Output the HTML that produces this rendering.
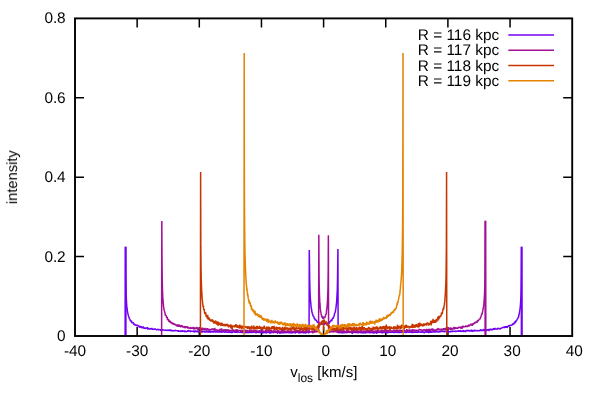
<!DOCTYPE html>
<html><head><meta charset="utf-8"><title>plot</title>
<style>html,body{margin:0;padding:0;background:#fff;width:600px;height:400px;overflow:hidden;font-family:"Liberation Sans",sans-serif}</style>
</head><body>
<svg width="600" height="400" viewBox="0 0 600 400" style="position:absolute;left:0;top:0">
<rect width="600" height="400" fill="#fff"/>
<path d="M137.15 336.00 v-9 M137.15 18.40 v9 M199.30 336.00 v-9 M199.30 18.40 v9 M261.45 336.00 v-9 M261.45 18.40 v9 M323.60 336.00 v-9 M323.60 18.40 v9 M385.75 336.00 v-9 M385.75 18.40 v9 M447.90 336.00 v-9 M447.90 18.40 v9 M510.05 336.00 v-9 M510.05 18.40 v9 M75.00 256.60 h9 M572.20 256.60 h-9 M75.00 177.20 h9 M572.20 177.20 h-9 M75.00 97.80 h9 M572.20 97.80 h-9" stroke="#000" stroke-width="1.5" fill="none"/>
<path d="M125.40 336.00 L125.59 246.90 L125.79 272.94 L125.99 286.63 L126.19 294.50 L126.39 299.53 L126.59 303.62 L126.79 306.32 L126.99 307.98 L127.19 308.62 L127.39 311.40 L127.59 311.78 L127.78 312.92 L127.98 313.78 L128.18 315.00 L128.38 315.39 L128.58 316.36 L128.78 316.39 L128.98 316.92 L129.18 318.43 L129.38 318.40 L129.58 319.00 L129.77 319.24 L129.97 319.15 L130.17 320.13 L130.37 321.06 L130.57 320.67 L130.77 320.00 L130.97 321.53 L131.17 321.79 L131.37 321.10 L131.57 321.39 L131.76 321.59 L131.96 322.87 L132.16 323.32 L132.36 322.71 L132.56 322.84 L132.76 322.85 L132.96 322.53 L133.16 322.69 L133.36 323.06 L133.56 323.29 L133.75 324.26 L133.95 324.51 L134.15 324.61 L134.35 324.25 L134.55 324.28 L134.75 324.32 L134.95 325.06 L135.15 325.20 L135.35 324.94 L135.55 325.40 L135.74 324.87 L135.94 324.92 L136.14 325.43 L136.34 325.61 L136.54 325.16 L136.74 325.02 L136.94 325.46 L137.14 324.84 L137.34 325.44 L137.54 325.76 L137.73 325.92 L137.93 324.81 L138.13 326.44 L138.33 326.01 L138.53 325.95 L138.73 325.65 L138.93 326.77 L139.13 326.95 L139.33 325.55 L139.53 327.24 L139.72 327.34 L139.92 326.36 L140.12 326.59 L140.32 326.19 L140.52 327.58 L140.72 326.13 L140.92 327.15 L141.12 326.17 L141.32 327.99 L141.52 327.12 L141.71 327.82 L141.91 327.99 L142.11 327.75 L142.31 326.75 L142.51 327.61 L142.71 328.18 L142.91 326.67 L143.11 326.80 L143.31 326.81 L143.51 328.18 L143.70 327.82 L143.90 327.69 L144.10 328.40 L144.30 328.57 L144.50 327.57 L144.70 327.79 L144.90 328.67 L145.10 328.43 L145.30 328.50 L145.50 328.73 L145.69 327.94 L145.89 328.17 L146.09 328.17 L146.29 328.66 L146.49 328.16 L146.69 328.44 L146.89 328.27 L147.09 328.65 L147.29 327.16 L147.49 327.71 L147.68 329.05 L147.88 329.19 L148.08 329.06 L148.28 328.53 L148.48 328.31 L148.68 329.12 L148.88 327.80 L149.08 329.10 L149.28 328.92 L149.48 329.14 L149.67 328.66 L149.87 329.28 L150.07 329.05 L150.27 328.32 L150.47 329.52 L150.67 328.80 L150.87 328.84 L151.07 328.50 L151.27 329.31 L151.47 329.03 L151.66 328.46 L151.86 328.32 L152.06 328.58 L152.26 328.61 L152.46 328.96 L152.66 329.45 L152.86 329.72 L153.06 328.55 L153.26 329.43 L153.46 328.82 L153.65 329.22 L153.85 329.25 L154.05 328.68 L154.25 329.94 L154.45 328.73 L154.65 329.69 L154.85 328.84 L155.05 328.80 L155.25 328.72 L155.45 329.68 L155.64 328.92 L155.84 329.58 L156.04 329.52 L156.24 329.74 L156.44 329.18 L156.64 330.25 L156.84 329.11 L157.04 329.47 L157.24 330.09 L157.44 329.48 L157.63 329.85 L157.83 329.38 L158.03 328.78 L158.23 330.03 L158.43 329.15 L158.63 330.44 L158.83 328.99 L159.03 329.73 L159.23 330.01 L159.43 329.57 L159.62 329.79 L159.82 329.49 L160.02 330.15 L160.22 329.94 L160.42 330.04 L160.62 329.15 L160.82 330.95 L161.02 330.16 L161.22 329.26 L161.42 330.77 L161.61 330.65 L161.81 329.64 L162.01 330.83 L162.21 329.47 L162.41 330.45 L162.61 329.88 L162.81 329.57 L163.01 329.47 L163.21 329.91 L163.41 329.90 L163.60 330.05 L163.80 329.88 L164.00 330.36 L164.20 329.87 L164.40 329.62 L164.60 330.37 L164.80 330.40 L165.00 330.07 L165.20 330.76 L165.40 329.56 L165.59 330.24 L165.79 330.78 L165.99 329.99 L166.19 330.52 L166.39 330.67 L166.59 329.90 L166.79 330.67 L166.99 329.61 L167.19 330.24 L167.39 330.07 L167.58 330.13 L167.78 330.59 L167.98 330.67 L168.18 330.15 L168.38 330.69 L168.58 330.15 L168.78 329.93 L168.98 329.53 L169.18 329.92 L169.38 330.46 L169.57 330.88 L169.77 330.57 L169.97 330.72 L170.17 330.09 L170.37 329.64 L170.57 330.95 L170.77 330.81 L170.97 330.23 L171.17 330.36 L171.37 330.14 L171.56 329.75 L171.76 330.84 L171.96 330.94 L172.16 330.33 L172.36 331.26 L172.56 330.13 L172.76 331.50 L172.96 330.42 L173.16 331.10 L173.36 330.42 L173.55 331.02 L173.75 330.76 L173.95 330.88 L174.15 330.36 L174.35 331.22 L174.55 330.32 L174.75 330.65 L174.95 330.88 L175.15 330.02 L175.35 330.90 L175.54 330.76 L175.74 330.49 L175.94 330.54 L176.14 330.95 L176.34 330.17 L176.54 330.88 L176.74 330.52 L176.94 331.13 L177.14 330.31 L177.34 330.96 L177.53 331.10 L177.73 331.38 L177.93 330.11 L178.13 331.05 L178.33 331.37 L178.53 330.74 L178.73 330.87 L178.93 331.84 L179.13 331.16 L179.33 331.68 L179.52 331.05 L179.72 331.22 L179.92 331.50 L180.12 330.94 L180.32 330.46 L180.52 331.43 L180.72 331.41 L180.92 331.65 L181.12 331.59 L181.32 330.88 L181.51 331.06 L181.71 330.63 L181.91 331.32 L182.11 331.05 L182.31 330.07 L182.51 331.11 L182.71 331.77 L182.91 331.23 L183.11 330.93 L183.31 330.93 L183.50 331.84 L183.70 330.82 L183.90 331.19 L184.10 331.87 L184.30 331.70 L184.50 331.50 L184.70 331.12 L184.90 330.41 L185.10 331.66 L185.30 331.18 L185.49 331.48 L185.69 330.88 L185.89 332.15 L186.09 331.73 L186.29 331.28 L186.49 331.89 L186.69 330.96 L186.89 331.57 L187.09 331.23 L187.29 331.45 L187.48 330.84 L187.68 331.70 L187.88 331.30 L188.08 330.00 L188.28 330.79 L188.48 331.06 L188.68 331.50 L188.88 330.47 L189.08 331.54 L189.28 330.93 L189.47 331.64 L189.67 330.59 L189.87 330.80 L190.07 331.49 L190.27 331.63 L190.47 331.79 L190.67 331.16 L190.87 331.07 L191.07 330.82 L191.27 331.24 L191.46 331.53 L191.66 330.62 L191.86 331.30 L192.06 331.30 L192.26 330.87 L192.46 331.78 L192.66 331.18 L192.86 331.90 L193.06 331.04 L193.26 331.11 L193.45 331.66 L193.65 330.99 L193.85 330.44 L194.05 332.31 L194.25 331.84 L194.45 331.67 L194.65 332.11 L194.85 332.08 L195.05 330.77 L195.25 331.08 L195.44 330.99 L195.64 330.82 L195.84 331.22 L196.04 330.90 L196.24 331.35 L196.44 331.61 L196.64 331.00 L196.84 331.70 L197.04 331.81 L197.24 330.70 L197.43 331.01 L197.63 332.13 L197.83 331.96 L198.03 330.90 L198.23 331.96 L198.43 331.41 L198.63 332.23 L198.83 331.26 L199.03 331.80 L199.23 331.18 L199.42 332.04 L199.62 330.79 L199.82 331.18 L200.02 330.95 L200.22 331.47 L200.42 331.10 L200.62 331.60 L200.82 332.70 L201.02 331.48 L201.22 331.56 L201.41 330.54 L201.61 332.26 L201.81 330.67 L202.01 331.52 L202.21 331.09 L202.41 332.57 L202.61 331.31 L202.81 331.50 L203.01 331.51 L203.21 332.10 L203.40 331.49 L203.60 331.08 L203.80 331.72 L204.00 331.18 L204.20 331.55 L204.40 331.31 L204.60 331.25 L204.80 332.15 L205.00 332.34 L205.20 331.42 L205.39 331.89 L205.59 331.94 L205.79 332.06 L205.99 332.02 L206.19 332.15 L206.39 331.83 L206.59 332.23 L206.79 330.71 L206.99 331.15 L207.19 332.14 L207.38 332.05 L207.58 331.94 L207.78 331.94 L207.98 331.87 L208.18 331.36 L208.38 331.73 L208.58 331.49 L208.78 332.57 L208.98 331.20 L209.18 331.21 L209.37 330.52 L209.57 332.53 L209.77 331.77 L209.97 331.60 L210.17 331.55 L210.37 332.68 L210.57 332.33 L210.77 331.39 L210.97 331.69 L211.17 331.85 L211.36 330.93 L211.56 331.65 L211.76 332.18 L211.96 331.89 L212.16 332.25 L212.36 332.07 L212.56 331.42 L212.76 331.28 L212.96 331.57 L213.16 331.75 L213.35 332.47 L213.55 332.06 L213.75 331.28 L213.95 331.57 L214.15 330.96 L214.35 331.75 L214.55 331.87 L214.75 331.30 L214.95 331.52 L215.15 332.41 L215.34 331.77 L215.54 331.45 L215.74 332.57 L215.94 331.64 L216.14 331.26 L216.34 332.12 L216.54 331.46 L216.74 332.10 L216.94 331.89 L217.14 331.74 L217.33 332.04 L217.53 332.17 L217.73 331.52 L217.93 330.87 L218.13 332.12 L218.33 331.99 L218.53 332.32 L218.73 331.98 L218.93 331.48 L219.12 332.68 L219.32 331.77 L219.52 332.25 L219.72 331.39 L219.92 331.21 L220.12 332.11 L220.32 332.20 L220.52 331.87 L220.72 331.68 L220.92 331.35 L221.12 332.23 L221.31 332.17 L221.51 331.23 L221.71 331.44 L221.91 331.75 L222.11 332.59 L222.31 332.09 L222.51 331.77 L222.71 331.62 L222.91 332.39 L223.11 330.94 L223.30 331.50 L223.50 332.31 L223.70 331.44 L223.90 331.75 L224.10 332.21 L224.30 332.21 L224.50 332.22 L224.70 331.95 L224.90 332.09 L225.10 332.28 L225.29 331.61 L225.49 331.85 L225.69 331.75 L225.89 332.13 L226.09 331.93 L226.29 332.02 L226.49 331.75 L226.69 332.56 L226.89 332.23 L227.09 332.08 L227.28 332.08 L227.48 331.51 L227.68 332.24 L227.88 332.22 L228.08 331.55 L228.28 332.24 L228.48 332.74 L228.68 331.68 L228.88 332.15 L229.08 331.96 L229.27 332.78 L229.47 331.81 L229.67 331.75 L229.87 332.07 L230.07 331.46 L230.27 332.23 L230.47 332.68 L230.67 331.91 L230.87 332.55 L231.06 333.09 L231.26 332.21 L231.46 331.37 L231.66 332.63 L231.86 331.46 L232.06 332.26 L232.26 333.03 L232.46 332.21 L232.66 331.74 L232.86 331.67 L233.06 331.97 L233.25 331.49 L233.45 331.65 L233.65 331.97 L233.85 331.59 L234.05 332.34 L234.25 331.52 L234.45 331.92 L234.65 331.87 L234.85 332.84 L235.05 332.07 L235.24 331.64 L235.44 331.65 L235.64 332.39 L235.84 331.16 L236.04 332.36 L236.24 332.50 L236.44 331.43 L236.64 331.69 L236.84 332.07 L237.04 332.83 L237.23 332.40 L237.43 332.33 L237.63 332.61 L237.83 331.34 L238.03 332.52 L238.23 331.73 L238.43 332.02 L238.63 332.00 L238.83 332.46 L239.03 332.05 L239.22 332.58 L239.42 332.33 L239.62 332.66 L239.82 332.55 L240.02 332.35 L240.22 332.11 L240.42 332.15 L240.62 331.86 L240.82 332.23 L241.02 332.43 L241.21 332.25 L241.41 332.20 L241.61 332.17 L241.81 331.93 L242.01 332.58 L242.21 333.01 L242.41 332.32 L242.61 332.45 L242.81 332.44 L243.01 331.93 L243.20 332.92 L243.40 331.80 L243.60 332.00 L243.80 332.78 L244.00 332.83 L244.20 331.73 L244.40 332.67 L244.60 332.23 L244.80 331.49 L245.00 331.14 L245.19 333.30 L245.39 332.19 L245.59 332.09 L245.79 332.02 L245.99 332.46 L246.19 332.52 L246.39 332.43 L246.59 332.88 L246.79 332.21 L246.99 332.69 L247.18 332.52 L247.38 332.47 L247.58 332.37 L247.78 332.75 L247.98 331.70 L248.18 332.32 L248.38 332.89 L248.58 332.28 L248.78 333.12 L248.98 332.46 L249.17 331.97 L249.37 332.16 L249.57 332.02 L249.77 332.52 L249.97 333.03 L250.17 332.21 L250.37 332.55 L250.57 332.81 L250.77 332.31 L250.97 332.09 L251.16 332.90 L251.36 331.91 L251.56 332.17 L251.76 332.48 L251.96 332.17 L252.16 333.07 L252.36 331.98 L252.56 331.95 L252.76 331.43 L252.96 332.44 L253.15 332.73 L253.35 332.32 L253.55 332.16 L253.75 332.18 L253.95 331.80 L254.15 332.09 L254.35 332.11 L254.55 332.44 L254.75 331.52 L254.95 332.63 L255.14 332.59 L255.34 332.44 L255.54 331.99 L255.74 331.90 L255.94 332.48 L256.14 332.62 L256.34 333.08 L256.54 331.41 L256.74 331.06 L256.94 332.71 L257.13 331.77 L257.33 332.49 L257.53 332.10 L257.73 332.16 L257.93 332.82 L258.13 332.45 L258.33 332.60 L258.53 332.41 L258.73 332.09 L258.93 332.14 L259.12 331.70 L259.32 332.48 L259.52 332.20 L259.72 331.84 L259.92 331.98 L260.12 333.07 L260.32 332.62 L260.52 331.86 L260.72 332.18 L260.92 332.79 L261.11 332.01 L261.31 332.99 L261.51 332.30 L261.71 332.33 L261.91 331.44 L262.11 333.40 L262.31 333.05 L262.51 332.99 L262.71 331.43 L262.91 332.63 L263.10 332.05 L263.30 332.44 L263.50 333.26 L263.70 332.11 L263.90 332.66 L264.10 332.19 L264.30 332.38 L264.50 332.50 L264.70 331.83 L264.90 332.44 L265.09 332.73 L265.29 331.81 L265.49 332.06 L265.69 332.78 L265.89 332.84 L266.09 333.14 L266.29 331.83 L266.49 332.86 L266.69 332.66 L266.88 332.62 L267.08 332.33 L267.28 332.08 L267.48 332.70 L267.68 331.74 L267.88 332.14 L268.08 332.78 L268.28 332.19 L268.48 332.46 L268.68 331.50 L268.88 332.91 L269.07 332.66 L269.27 332.24 L269.47 331.76 L269.67 332.02 L269.87 333.60 L270.07 331.57 L270.27 332.40 L270.47 332.15 L270.67 332.56 L270.87 332.98 L271.06 332.80 L271.26 331.77 L271.46 332.36 L271.66 332.91 L271.86 332.19 L272.06 331.28 L272.26 332.09 L272.46 332.51 L272.66 332.75 L272.86 331.92 L273.05 332.76 L273.25 332.15 L273.45 332.09 L273.65 332.42 L273.85 332.27 L274.05 333.00 L274.25 332.48 L274.45 332.68 L274.65 332.39 L274.85 332.69 L275.04 332.11 L275.24 331.77 L275.44 332.67 L275.64 332.59 L275.84 332.50 L276.04 332.22 L276.24 332.31 L276.44 332.34 L276.64 332.64 L276.84 332.20 L277.03 332.57 L277.23 332.27 L277.43 333.14 L277.63 333.13 L277.83 332.35 L278.03 331.72 L278.23 332.44 L278.43 332.61 L278.63 332.29 L278.83 332.17 L279.02 332.41 L279.22 332.28 L279.42 332.28 L279.62 332.43 L279.82 333.56 L280.02 333.13 L280.22 332.49 L280.42 332.80 L280.62 332.63 L280.81 331.63 L281.01 332.85 L281.21 333.02 L281.41 332.64 L281.61 333.02 L281.81 332.27 L282.01 332.23 L282.21 332.96 L282.41 332.87 L282.61 332.08 L282.81 332.21 L283.00 332.08 L283.20 332.28 L283.40 332.52 L283.60 332.42 L283.80 333.27 L284.00 332.09 L284.20 332.71 L284.40 333.15 L284.60 332.78 L284.80 332.18 L284.99 332.40 L285.19 332.32 L285.39 333.04 L285.59 331.66 L285.79 332.71 L285.99 332.64 L286.19 331.90 L286.39 332.13 L286.59 332.66 L286.79 332.35 L286.98 332.60 L287.18 332.45 L287.38 331.91 L287.58 332.83 L287.78 332.38 L287.98 332.29 L288.18 331.65 L288.38 333.19 L288.58 332.57 L288.78 333.09 L288.97 331.63 L289.17 331.77 L289.37 332.75 L289.57 332.21 L289.77 332.73 L289.97 332.91 L290.17 332.44 L290.37 333.24 L290.57 332.37 L290.77 332.60 L290.96 332.54 L291.16 333.03 L291.36 333.05 L291.56 332.20 L291.76 331.94 L291.96 332.75 L292.16 332.54 L292.36 333.24 L292.56 332.38 L292.75 331.98 L292.95 332.85 L293.15 332.39 L293.35 332.51 L293.55 332.65 L293.75 332.50 L293.95 333.12 L294.15 332.15 L294.35 332.54 L294.55 332.84 L294.75 331.72 L294.94 332.58 L295.14 332.97 L295.34 332.93 L295.54 332.90 L295.74 331.95 L295.94 332.11 L296.14 331.85 L296.34 332.74 L296.54 332.39 L296.74 332.02 L296.93 332.49 L297.13 331.97 L297.33 332.78 L297.53 331.91 L297.73 332.35 L297.93 332.31 L298.13 332.26 L298.33 332.39 L298.53 332.64 L298.73 332.95 L298.92 332.89 L299.12 331.96 L299.32 332.80 L299.52 332.77 L299.72 332.36 L299.92 331.59 L300.12 333.08 L300.32 332.63 L300.52 332.61 L300.72 332.27 L300.91 331.40 L301.11 332.46 L301.31 332.39 L301.51 332.49 L301.71 332.60 L301.91 332.82 L302.11 332.28 L302.31 332.03 L302.51 332.86 L302.71 332.81 L302.90 332.67 L303.10 332.72 L303.30 332.90 L303.50 332.59 L303.70 332.24 L303.90 332.69 L304.10 333.08 L304.30 332.36 L304.50 332.03 L304.70 332.64 L304.89 332.74 L305.09 332.44 L305.29 332.22 L305.49 332.83 L305.69 332.86 L305.89 333.46 L306.09 332.28 L306.29 332.45 L306.49 332.33 L306.69 332.34 L306.88 332.77 L307.08 332.32 L307.28 331.89 L307.48 332.61 L307.68 332.43 L307.88 332.45 L308.08 332.37 L308.28 332.98 L308.48 332.17 L308.68 332.42 L308.87 333.33 L309.07 332.25 L309.27 250.02 L309.47 262.74 L309.67 279.00 L309.87 286.95 L310.07 293.08 L310.27 297.26 L310.47 299.93 L310.67 302.44 L310.86 304.03 L311.06 306.68 L311.26 308.77 L311.46 308.42 L311.66 310.46 L311.86 311.48 L312.06 312.17 L312.26 313.59 L312.46 313.37 L312.66 314.57 L312.85 314.80 L313.05 316.17 L313.25 316.09 L313.45 316.26 L313.65 316.82 L313.85 316.27 L314.05 317.29 L314.25 318.72 L314.45 318.73 L314.65 318.40 L314.84 319.11 L315.04 318.63 L315.24 320.29 L315.44 319.26 L315.64 319.89 L315.84 320.47 L316.04 320.28 L316.24 320.19 L316.44 320.03 L316.64 320.88 L316.83 321.69 L317.03 321.48 L317.23 322.38 L317.43 322.19 L317.63 321.85 L317.83 322.29 L318.03 323.21 L318.23 321.97 L318.43 322.89 L318.62 321.36 L318.82 322.17 L319.02 323.28 L319.22 323.08 L319.42 323.98 L319.62 322.99 L319.82 324.30 L320.02 323.48 L320.22 322.86 L320.42 323.83 L320.62 323.45 L320.81 323.10 L321.01 324.07 L321.21 324.10 L321.41 324.11 L321.61 324.57 L321.81 323.87 L322.01 323.37 L322.21 324.07 L322.41 324.23 L322.61 324.13 L322.80 324.63 L323.00 323.25 L323.20 324.39 L323.40 323.73 L323.60 323.98 L323.80 323.35 L324.00 324.16 L324.20 324.45 L324.40 324.21 L324.60 323.56 L324.79 323.00 L324.99 323.25 L325.19 323.34 L325.39 324.27 L325.59 323.57 L325.79 322.97 L325.99 324.30 L326.19 323.45 L326.39 324.38 L326.59 323.33 L326.78 323.88 L326.98 323.19 L327.18 323.34 L327.38 322.77 L327.58 323.71 L327.78 322.65 L327.98 323.63 L328.18 323.21 L328.38 322.63 L328.58 323.03 L328.77 322.86 L328.97 322.97 L329.17 323.54 L329.37 322.22 L329.57 322.20 L329.77 321.96 L329.97 321.24 L330.17 322.08 L330.37 321.67 L330.56 320.85 L330.76 321.48 L330.96 320.08 L331.16 321.26 L331.36 320.05 L331.56 319.39 L331.76 321.03 L331.96 319.77 L332.16 319.07 L332.36 318.98 L332.56 318.56 L332.75 317.72 L332.95 318.47 L333.15 317.91 L333.35 318.55 L333.55 316.89 L333.75 316.62 L333.95 316.25 L334.15 315.91 L334.35 315.08 L334.55 313.42 L334.74 313.12 L334.94 312.85 L335.14 312.35 L335.34 311.84 L335.54 310.26 L335.74 309.20 L335.94 308.13 L336.14 306.35 L336.34 304.97 L336.54 302.36 L336.73 300.49 L336.93 296.51 L337.13 293.27 L337.33 288.93 L337.53 279.10 L337.73 262.68 L337.93 248.97 L338.13 332.18 L338.33 333.08 L338.53 332.43 L338.72 332.55 L338.92 332.44 L339.12 332.84 L339.32 332.95 L339.52 332.33 L339.72 332.65 L339.92 332.84 L340.12 332.15 L340.32 332.54 L340.52 332.51 L340.71 332.19 L340.91 332.28 L341.11 332.04 L341.31 332.74 L341.51 332.49 L341.71 333.46 L341.91 331.95 L342.11 332.66 L342.31 332.17 L342.50 333.08 L342.70 333.00 L342.90 331.56 L343.10 332.63 L343.30 332.89 L343.50 332.35 L343.70 332.70 L343.90 331.89 L344.10 333.44 L344.30 332.29 L344.50 332.68 L344.69 333.07 L344.89 332.13 L345.09 332.44 L345.29 332.37 L345.49 332.57 L345.69 332.59 L345.89 332.00 L346.09 332.92 L346.29 332.82 L346.49 332.83 L346.68 333.14 L346.88 332.07 L347.08 331.95 L347.28 332.56 L347.48 332.96 L347.68 332.06 L347.88 331.77 L348.08 332.54 L348.28 332.13 L348.48 331.26 L348.67 332.16 L348.87 332.04 L349.07 332.94 L349.27 332.62 L349.47 332.92 L349.67 332.03 L349.87 332.31 L350.07 331.91 L350.27 332.62 L350.47 332.04 L350.66 332.53 L350.86 332.35 L351.06 332.83 L351.26 332.10 L351.46 332.55 L351.66 332.21 L351.86 333.15 L352.06 333.17 L352.26 332.54 L352.46 333.37 L352.65 333.38 L352.85 332.15 L353.05 332.84 L353.25 332.07 L353.45 331.75 L353.65 331.57 L353.85 332.27 L354.05 331.87 L354.25 332.69 L354.45 332.12 L354.64 332.08 L354.84 332.67 L355.04 332.51 L355.24 332.14 L355.44 332.49 L355.64 332.40 L355.84 332.49 L356.04 332.33 L356.24 332.19 L356.44 332.59 L356.63 332.06 L356.83 332.74 L357.03 332.65 L357.23 331.97 L357.43 332.36 L357.63 332.43 L357.83 331.39 L358.03 332.84 L358.23 332.77 L358.43 332.75 L358.62 331.97 L358.82 331.94 L359.02 332.51 L359.22 332.32 L359.42 332.22 L359.62 332.68 L359.82 332.18 L360.02 331.92 L360.22 333.00 L360.42 331.91 L360.61 333.12 L360.81 332.74 L361.01 332.39 L361.21 331.71 L361.41 332.54 L361.61 333.29 L361.81 331.85 L362.01 333.18 L362.21 331.09 L362.41 332.13 L362.60 332.22 L362.80 332.90 L363.00 332.94 L363.20 333.30 L363.40 332.56 L363.60 332.70 L363.80 332.36 L364.00 332.20 L364.20 332.57 L364.40 331.48 L364.59 332.52 L364.79 333.42 L364.99 332.25 L365.19 333.19 L365.39 333.09 L365.59 331.65 L365.79 332.88 L365.99 332.49 L366.19 333.10 L366.39 331.77 L366.58 332.04 L366.78 333.12 L366.98 332.26 L367.18 332.97 L367.38 332.05 L367.58 332.06 L367.78 332.87 L367.98 332.17 L368.18 332.67 L368.38 332.17 L368.57 332.69 L368.77 332.20 L368.97 332.41 L369.17 332.63 L369.37 333.08 L369.57 332.40 L369.77 333.39 L369.97 331.90 L370.17 331.42 L370.37 332.15 L370.56 332.19 L370.76 332.39 L370.96 332.80 L371.16 332.47 L371.36 332.32 L371.56 332.43 L371.76 331.99 L371.96 332.99 L372.16 332.55 L372.36 332.41 L372.55 331.73 L372.75 332.00 L372.95 332.24 L373.15 333.64 L373.35 332.52 L373.55 332.36 L373.75 332.94 L373.95 332.78 L374.15 332.23 L374.35 331.89 L374.54 333.26 L374.74 332.77 L374.94 331.99 L375.14 331.52 L375.34 332.29 L375.54 332.59 L375.74 332.73 L375.94 331.70 L376.14 331.64 L376.34 332.59 L376.53 333.19 L376.73 333.19 L376.93 332.59 L377.13 332.23 L377.33 331.95 L377.53 331.72 L377.73 332.76 L377.93 332.31 L378.13 331.89 L378.33 332.48 L378.52 332.96 L378.72 331.71 L378.92 332.62 L379.12 332.32 L379.32 332.07 L379.52 332.76 L379.72 332.12 L379.92 332.84 L380.12 331.95 L380.32 331.99 L380.51 332.36 L380.71 332.63 L380.91 332.50 L381.11 333.04 L381.31 332.63 L381.51 332.68 L381.71 332.50 L381.91 332.26 L382.11 331.65 L382.31 333.21 L382.50 332.37 L382.70 332.17 L382.90 332.65 L383.10 332.47 L383.30 333.09 L383.50 332.30 L383.70 332.56 L383.90 332.02 L384.10 331.81 L384.30 332.64 L384.49 332.86 L384.69 332.39 L384.89 332.54 L385.09 332.44 L385.29 332.09 L385.49 332.04 L385.69 331.87 L385.89 332.89 L386.09 332.47 L386.29 332.47 L386.48 332.43 L386.68 332.23 L386.88 332.21 L387.08 331.60 L387.28 331.79 L387.48 332.72 L387.68 333.03 L387.88 332.76 L388.08 332.51 L388.28 331.72 L388.47 331.76 L388.67 331.80 L388.87 332.11 L389.07 331.91 L389.27 332.49 L389.47 332.35 L389.67 332.75 L389.87 332.12 L390.07 332.89 L390.27 332.60 L390.46 332.37 L390.66 332.57 L390.86 332.19 L391.06 332.09 L391.26 332.84 L391.46 331.93 L391.66 331.81 L391.86 332.53 L392.06 332.18 L392.25 332.00 L392.45 331.56 L392.65 331.79 L392.85 332.07 L393.05 332.62 L393.25 332.28 L393.45 332.46 L393.65 332.60 L393.85 332.72 L394.05 332.08 L394.25 332.22 L394.44 332.28 L394.64 333.06 L394.84 332.06 L395.04 331.63 L395.24 331.69 L395.44 332.37 L395.64 332.87 L395.84 331.84 L396.04 332.57 L396.24 332.06 L396.43 332.19 L396.63 331.66 L396.83 331.42 L397.03 332.58 L397.23 331.97 L397.43 332.23 L397.63 333.09 L397.83 332.23 L398.03 332.58 L398.23 332.17 L398.42 333.16 L398.62 332.00 L398.82 332.10 L399.02 331.86 L399.22 331.78 L399.42 331.93 L399.62 333.02 L399.82 331.89 L400.02 331.73 L400.22 332.49 L400.41 331.71 L400.61 332.23 L400.81 332.12 L401.01 332.06 L401.21 332.62 L401.41 332.76 L401.61 332.16 L401.81 332.39 L402.01 331.77 L402.21 332.59 L402.40 331.40 L402.60 331.44 L402.80 331.70 L403.00 332.80 L403.20 331.50 L403.40 331.84 L403.60 332.80 L403.80 332.15 L404.00 331.94 L404.20 332.10 L404.39 331.94 L404.59 332.04 L404.79 332.60 L404.99 331.83 L405.19 332.52 L405.39 332.49 L405.59 332.51 L405.79 332.20 L405.99 332.58 L406.19 331.32 L406.38 332.44 L406.58 332.60 L406.78 331.74 L406.98 332.71 L407.18 331.26 L407.38 331.54 L407.58 332.28 L407.78 331.64 L407.98 332.18 L408.18 332.05 L408.37 332.46 L408.57 331.55 L408.77 331.94 L408.97 331.99 L409.17 332.67 L409.37 332.32 L409.57 331.57 L409.77 332.52 L409.97 332.24 L410.17 332.42 L410.36 331.37 L410.56 332.79 L410.76 332.23 L410.96 332.48 L411.16 331.35 L411.36 332.08 L411.56 332.74 L411.76 332.19 L411.96 332.41 L412.16 332.39 L412.35 331.45 L412.55 332.62 L412.75 331.51 L412.95 333.15 L413.15 332.29 L413.35 332.88 L413.55 332.00 L413.75 331.71 L413.95 332.38 L414.15 332.55 L414.34 331.75 L414.54 332.24 L414.74 332.52 L414.94 332.18 L415.14 331.42 L415.34 332.85 L415.54 332.14 L415.74 331.63 L415.94 332.01 L416.14 332.71 L416.33 332.28 L416.53 332.03 L416.73 331.93 L416.93 332.04 L417.13 332.22 L417.33 332.29 L417.53 331.65 L417.73 331.79 L417.93 332.44 L418.12 332.65 L418.32 331.90 L418.52 331.25 L418.72 331.28 L418.92 331.56 L419.12 331.31 L419.32 332.42 L419.52 331.81 L419.72 332.49 L419.92 331.50 L420.12 332.46 L420.31 331.83 L420.51 332.14 L420.71 332.08 L420.91 332.77 L421.11 331.36 L421.31 332.25 L421.51 331.75 L421.71 332.79 L421.91 331.68 L422.11 332.08 L422.30 332.16 L422.50 331.35 L422.70 331.31 L422.90 331.65 L423.10 332.13 L423.30 331.94 L423.50 332.43 L423.70 331.69 L423.90 333.11 L424.10 332.00 L424.29 333.20 L424.49 332.43 L424.69 331.93 L424.89 332.30 L425.09 331.96 L425.29 332.36 L425.49 331.25 L425.69 331.83 L425.89 331.95 L426.09 331.51 L426.28 332.32 L426.48 332.24 L426.68 331.09 L426.88 331.58 L427.08 331.83 L427.28 332.28 L427.48 331.63 L427.68 331.05 L427.88 332.16 L428.08 332.69 L428.27 332.52 L428.47 331.90 L428.67 332.84 L428.87 332.42 L429.07 331.83 L429.27 331.19 L429.47 332.69 L429.67 331.93 L429.87 332.22 L430.07 332.30 L430.26 331.09 L430.46 332.71 L430.66 332.30 L430.86 331.81 L431.06 332.76 L431.26 331.79 L431.46 331.93 L431.66 332.67 L431.86 331.68 L432.06 331.41 L432.25 332.34 L432.45 331.45 L432.65 332.00 L432.85 332.04 L433.05 332.20 L433.25 331.93 L433.45 332.41 L433.65 331.95 L433.85 331.57 L434.05 331.55 L434.24 331.36 L434.44 331.51 L434.64 331.80 L434.84 332.08 L435.04 332.39 L435.24 331.82 L435.44 331.10 L435.64 332.00 L435.84 331.68 L436.04 330.87 L436.23 331.71 L436.43 331.89 L436.63 332.19 L436.83 331.47 L437.03 331.18 L437.23 331.46 L437.43 331.44 L437.63 331.67 L437.83 331.81 L438.03 331.99 L438.22 331.91 L438.42 331.90 L438.62 332.53 L438.82 331.94 L439.02 331.81 L439.22 331.77 L439.42 332.02 L439.62 331.38 L439.82 331.84 L440.02 332.30 L440.21 331.31 L440.41 331.82 L440.61 331.59 L440.81 332.04 L441.01 331.54 L441.21 331.26 L441.41 331.90 L441.61 331.06 L441.81 331.30 L442.00 331.53 L442.20 330.98 L442.40 331.81 L442.60 331.48 L442.80 331.39 L443.00 331.97 L443.20 331.48 L443.40 331.16 L443.60 331.32 L443.80 332.19 L444.00 331.51 L444.19 331.13 L444.39 332.17 L444.59 330.76 L444.79 331.70 L444.99 332.09 L445.19 331.01 L445.39 331.83 L445.59 331.41 L445.79 330.67 L445.99 331.05 L446.18 331.87 L446.38 331.13 L446.58 331.68 L446.78 330.93 L446.98 331.80 L447.18 331.17 L447.38 331.31 L447.58 331.71 L447.78 331.70 L447.98 331.62 L448.17 331.61 L448.37 331.71 L448.57 332.26 L448.77 332.27 L448.97 331.75 L449.17 331.85 L449.37 331.25 L449.57 331.61 L449.77 331.85 L449.97 331.13 L450.16 331.77 L450.36 331.85 L450.56 332.03 L450.76 331.69 L450.96 330.56 L451.16 332.16 L451.36 331.03 L451.56 330.81 L451.76 331.96 L451.96 330.95 L452.15 331.64 L452.35 331.72 L452.55 330.93 L452.75 331.07 L452.95 330.95 L453.15 330.56 L453.35 331.75 L453.55 331.26 L453.75 331.15 L453.95 330.82 L454.14 331.60 L454.34 331.13 L454.54 331.43 L454.74 331.58 L454.94 330.60 L455.14 331.23 L455.34 331.28 L455.54 331.00 L455.74 331.51 L455.94 332.07 L456.13 331.54 L456.33 331.68 L456.53 331.09 L456.73 331.43 L456.93 330.98 L457.13 330.68 L457.33 331.42 L457.53 331.33 L457.73 331.45 L457.93 330.52 L458.12 331.69 L458.32 331.11 L458.52 331.04 L458.72 331.21 L458.92 331.12 L459.12 330.83 L459.32 330.53 L459.52 331.26 L459.72 331.53 L459.92 331.34 L460.11 331.02 L460.31 331.55 L460.51 330.45 L460.71 330.58 L460.91 331.48 L461.11 330.73 L461.31 331.98 L461.51 331.52 L461.71 330.69 L461.91 331.28 L462.10 331.69 L462.30 331.25 L462.50 331.36 L462.70 330.75 L462.90 330.47 L463.10 331.93 L463.30 331.20 L463.50 330.98 L463.70 330.57 L463.90 330.54 L464.09 330.85 L464.29 331.41 L464.49 331.06 L464.69 331.80 L464.89 331.52 L465.09 331.16 L465.29 331.43 L465.49 331.69 L465.69 331.78 L465.88 331.04 L466.08 330.28 L466.28 330.49 L466.48 330.20 L466.68 331.15 L466.88 330.86 L467.08 330.37 L467.28 330.89 L467.48 330.49 L467.68 331.26 L467.88 330.33 L468.07 329.91 L468.27 330.84 L468.47 331.23 L468.67 329.91 L468.87 331.29 L469.07 330.13 L469.27 330.78 L469.47 331.47 L469.67 331.12 L469.87 331.24 L470.06 330.19 L470.26 331.26 L470.46 330.41 L470.66 330.54 L470.86 330.59 L471.06 330.13 L471.26 331.01 L471.46 331.21 L471.66 329.65 L471.86 331.45 L472.05 331.40 L472.25 331.03 L472.45 331.10 L472.65 330.94 L472.85 330.12 L473.05 330.90 L473.25 330.86 L473.45 330.60 L473.65 330.87 L473.85 331.21 L474.04 331.06 L474.24 330.19 L474.44 330.09 L474.64 330.24 L474.84 330.80 L475.04 331.13 L475.24 330.56 L475.44 330.47 L475.64 330.19 L475.84 330.46 L476.03 330.54 L476.23 330.40 L476.43 330.91 L476.63 330.15 L476.83 331.36 L477.03 330.79 L477.23 330.76 L477.43 331.19 L477.63 330.80 L477.83 330.16 L478.02 330.64 L478.22 330.09 L478.42 330.84 L478.62 330.68 L478.82 330.48 L479.02 330.49 L479.22 330.69 L479.42 331.11 L479.62 330.69 L479.82 330.59 L480.01 329.83 L480.21 330.48 L480.41 330.72 L480.61 329.79 L480.81 329.58 L481.01 330.15 L481.21 330.09 L481.41 330.57 L481.61 330.91 L481.81 330.22 L482.00 330.53 L482.20 329.58 L482.40 330.25 L482.60 330.80 L482.80 330.55 L483.00 330.47 L483.20 330.07 L483.40 329.80 L483.60 328.99 L483.80 330.45 L483.99 329.56 L484.19 330.67 L484.39 330.16 L484.59 331.24 L484.79 330.06 L484.99 329.84 L485.19 329.23 L485.39 329.70 L485.59 329.65 L485.79 330.43 L485.98 329.78 L486.18 329.82 L486.38 330.38 L486.58 330.87 L486.78 329.63 L486.98 329.96 L487.18 330.48 L487.38 329.63 L487.58 329.42 L487.78 329.62 L487.97 329.87 L488.17 329.51 L488.37 329.80 L488.57 329.84 L488.77 329.39 L488.97 331.04 L489.17 329.49 L489.37 328.79 L489.57 329.72 L489.77 329.64 L489.96 329.13 L490.16 330.08 L490.36 329.89 L490.56 329.24 L490.76 328.88 L490.96 330.20 L491.16 329.21 L491.36 329.38 L491.56 329.21 L491.75 328.88 L491.95 330.42 L492.15 329.77 L492.35 328.96 L492.55 329.74 L492.75 329.23 L492.95 329.29 L493.15 329.56 L493.35 328.99 L493.55 328.15 L493.75 329.14 L493.94 329.74 L494.14 329.23 L494.34 329.37 L494.54 328.51 L494.74 328.78 L494.94 327.94 L495.14 328.94 L495.34 328.78 L495.54 329.58 L495.74 328.91 L495.93 329.37 L496.13 328.94 L496.33 328.82 L496.53 328.95 L496.73 328.59 L496.93 329.70 L497.13 329.40 L497.33 329.04 L497.53 328.76 L497.73 328.29 L497.92 328.20 L498.12 328.81 L498.32 328.43 L498.52 328.61 L498.72 328.07 L498.92 328.84 L499.12 328.91 L499.32 328.82 L499.52 328.93 L499.72 328.42 L499.91 328.14 L500.11 329.30 L500.31 328.95 L500.51 328.66 L500.71 328.00 L500.91 328.31 L501.11 328.61 L501.31 328.22 L501.51 327.94 L501.71 328.22 L501.90 327.48 L502.10 328.42 L502.30 327.30 L502.50 327.95 L502.70 327.31 L502.90 327.54 L503.10 327.31 L503.30 327.36 L503.50 327.29 L503.70 327.15 L503.89 327.64 L504.09 327.30 L504.29 328.10 L504.49 326.70 L504.69 326.79 L504.89 327.77 L505.09 326.99 L505.29 327.70 L505.49 327.01 L505.69 327.00 L505.88 326.75 L506.08 327.77 L506.28 326.01 L506.48 326.50 L506.68 327.31 L506.88 326.73 L507.08 327.56 L507.28 327.62 L507.48 326.56 L507.68 326.45 L507.87 326.44 L508.07 326.73 L508.27 326.24 L508.47 326.53 L508.67 325.78 L508.87 325.47 L509.07 326.63 L509.27 326.07 L509.47 326.16 L509.67 325.73 L509.86 324.91 L510.06 325.38 L510.26 325.82 L510.46 325.36 L510.66 325.42 L510.86 324.57 L511.06 325.75 L511.26 324.59 L511.46 325.09 L511.66 325.38 L511.85 325.06 L512.05 324.99 L512.25 324.87 L512.45 324.41 L512.65 323.45 L512.85 324.19 L513.05 323.77 L513.25 324.83 L513.45 323.49 L513.64 324.11 L513.84 324.29 L514.04 323.48 L514.24 323.16 L514.44 321.98 L514.64 322.11 L514.84 323.22 L515.04 322.37 L515.24 322.76 L515.44 322.88 L515.63 321.71 L515.83 320.93 L516.03 320.82 L516.23 321.13 L516.43 321.48 L516.63 319.97 L516.83 320.17 L517.03 319.87 L517.23 319.35 L517.43 318.68 L517.62 318.70 L517.82 318.46 L518.02 317.57 L518.22 317.04 L518.42 317.52 L518.62 316.84 L518.82 315.73 L519.02 313.89 L519.22 314.79 L519.42 312.57 L519.62 311.75 L519.81 310.06 L520.01 309.06 L520.21 307.94 L520.41 305.41 L520.61 302.26 L520.81 298.86 L521.01 294.81 L521.21 286.25 L521.41 272.58 L521.61 246.90 L521.80 336.00" stroke="#7202f3" stroke-width="1.5" fill="none" stroke-linejoin="bevel"/>
<path d="M125.59 336.00 V246.60" stroke="#7202f3" stroke-width="2.00" fill="none"/>
<path d="M521.61 336.00 V246.60" stroke="#7202f3" stroke-width="1.95" fill="none"/>
<path d="M161.61 336.00 L161.81 221.00 L162.01 259.84 L162.21 277.91 L162.41 287.18 L162.61 293.58 L162.81 297.59 L163.01 300.00 L163.21 302.52 L163.41 304.53 L163.60 306.90 L163.80 307.83 L164.00 309.74 L164.20 310.18 L164.40 310.82 L164.60 311.30 L164.80 312.50 L165.00 312.79 L165.20 314.00 L165.40 315.55 L165.59 314.62 L165.79 315.33 L165.99 315.27 L166.19 315.80 L166.39 316.05 L166.59 317.90 L166.79 316.61 L166.99 317.77 L167.19 317.10 L167.39 319.40 L167.58 319.55 L167.78 319.54 L167.98 320.15 L168.18 318.95 L168.38 319.48 L168.58 319.08 L168.78 320.62 L168.98 321.87 L169.18 321.59 L169.38 321.73 L169.57 321.68 L169.77 320.48 L169.97 321.89 L170.17 321.13 L170.37 322.88 L170.57 322.67 L170.77 322.15 L170.97 322.64 L171.17 322.15 L171.37 323.38 L171.56 322.56 L171.76 322.23 L171.96 323.01 L172.16 323.72 L172.36 323.88 L172.56 322.90 L172.76 322.69 L172.96 323.69 L173.16 323.38 L173.36 323.35 L173.55 324.88 L173.75 323.90 L173.95 323.76 L174.15 323.74 L174.35 323.66 L174.55 324.77 L174.75 324.13 L174.95 324.32 L175.15 324.55 L175.35 325.35 L175.54 324.31 L175.74 325.44 L175.94 324.38 L176.14 325.88 L176.34 324.98 L176.54 325.24 L176.74 325.68 L176.94 324.72 L177.14 326.72 L177.34 324.34 L177.53 325.13 L177.73 324.83 L177.93 326.53 L178.13 325.65 L178.33 326.74 L178.53 325.75 L178.73 324.54 L178.93 324.79 L179.13 325.85 L179.33 326.26 L179.52 326.15 L179.72 325.21 L179.92 326.30 L180.12 325.59 L180.32 326.29 L180.52 326.52 L180.72 327.16 L180.92 325.02 L181.12 325.83 L181.32 326.72 L181.51 326.49 L181.71 326.59 L181.91 325.89 L182.11 326.06 L182.31 325.45 L182.51 326.59 L182.71 326.71 L182.91 327.57 L183.11 326.71 L183.31 326.30 L183.50 327.62 L183.70 326.77 L183.90 327.60 L184.10 326.45 L184.30 326.45 L184.50 328.08 L184.70 326.28 L184.90 327.53 L185.10 326.28 L185.30 328.25 L185.49 327.33 L185.69 327.14 L185.89 326.29 L186.09 327.52 L186.29 326.87 L186.49 327.40 L186.69 327.72 L186.89 327.14 L187.09 326.73 L187.29 326.34 L187.48 327.83 L187.68 326.65 L187.88 328.63 L188.08 326.91 L188.28 327.84 L188.48 327.84 L188.68 327.48 L188.88 327.64 L189.08 327.59 L189.28 327.86 L189.47 327.97 L189.67 328.70 L189.87 328.32 L190.07 328.40 L190.27 328.94 L190.47 327.54 L190.67 327.23 L190.87 328.09 L191.07 328.88 L191.27 327.68 L191.46 328.53 L191.66 328.44 L191.86 327.35 L192.06 328.21 L192.26 327.49 L192.46 327.94 L192.66 328.24 L192.86 328.63 L193.06 328.34 L193.26 326.76 L193.45 328.94 L193.65 327.85 L193.85 329.16 L194.05 329.10 L194.25 327.73 L194.45 328.96 L194.65 329.09 L194.85 327.25 L195.05 328.11 L195.25 328.63 L195.44 328.03 L195.64 328.98 L195.84 328.22 L196.04 327.87 L196.24 328.99 L196.44 328.11 L196.64 328.74 L196.84 326.93 L197.04 328.19 L197.24 328.00 L197.43 329.00 L197.63 329.09 L197.83 329.07 L198.03 329.10 L198.23 330.02 L198.43 329.23 L198.63 328.53 L198.83 328.75 L199.03 327.69 L199.23 329.42 L199.42 328.36 L199.62 327.81 L199.82 328.27 L200.02 328.22 L200.22 328.59 L200.42 327.75 L200.62 329.15 L200.82 329.90 L201.02 330.35 L201.22 328.27 L201.41 329.65 L201.61 327.83 L201.81 329.75 L202.01 328.27 L202.21 327.91 L202.41 328.12 L202.61 330.46 L202.81 328.00 L203.01 329.16 L203.21 328.61 L203.40 329.87 L203.60 329.71 L203.80 328.68 L204.00 329.76 L204.20 328.32 L204.40 329.16 L204.60 329.41 L204.80 328.59 L205.00 327.93 L205.20 329.76 L205.39 330.03 L205.59 329.30 L205.79 330.31 L205.99 330.16 L206.19 329.79 L206.39 329.28 L206.59 328.45 L206.79 329.25 L206.99 330.28 L207.19 328.81 L207.38 328.71 L207.58 328.86 L207.78 330.22 L207.98 329.65 L208.18 329.60 L208.38 329.40 L208.58 330.47 L208.78 328.63 L208.98 329.54 L209.18 330.69 L209.37 330.07 L209.57 329.40 L209.77 330.11 L209.97 329.07 L210.17 330.14 L210.37 330.10 L210.57 329.26 L210.77 329.78 L210.97 328.96 L211.17 329.44 L211.36 329.09 L211.56 329.15 L211.76 329.97 L211.96 329.22 L212.16 329.18 L212.36 329.63 L212.56 329.29 L212.76 329.97 L212.96 328.32 L213.16 330.29 L213.35 329.61 L213.55 329.65 L213.75 328.90 L213.95 328.88 L214.15 329.42 L214.35 330.23 L214.55 330.40 L214.75 327.95 L214.95 329.50 L215.15 329.37 L215.34 329.19 L215.54 330.55 L215.74 329.20 L215.94 330.61 L216.14 330.39 L216.34 329.83 L216.54 330.30 L216.74 329.54 L216.94 329.85 L217.14 330.24 L217.33 329.96 L217.53 330.19 L217.73 330.19 L217.93 330.31 L218.13 330.13 L218.33 331.31 L218.53 330.24 L218.73 330.80 L218.93 329.71 L219.12 329.96 L219.32 330.81 L219.52 329.99 L219.72 329.88 L219.92 328.82 L220.12 329.87 L220.32 330.54 L220.52 329.07 L220.72 329.74 L220.92 330.10 L221.12 330.36 L221.31 330.39 L221.51 328.44 L221.71 330.17 L221.91 329.82 L222.11 329.68 L222.31 329.53 L222.51 331.38 L222.71 330.44 L222.91 329.40 L223.11 330.00 L223.30 329.87 L223.50 331.01 L223.70 330.47 L223.90 331.14 L224.10 329.32 L224.30 330.13 L224.50 330.46 L224.70 329.74 L224.90 330.96 L225.10 330.21 L225.29 330.42 L225.49 329.17 L225.69 330.22 L225.89 330.21 L226.09 329.26 L226.29 331.17 L226.49 331.32 L226.69 330.37 L226.89 330.75 L227.09 331.37 L227.28 329.53 L227.48 329.67 L227.68 329.91 L227.88 331.23 L228.08 329.47 L228.28 331.15 L228.48 330.83 L228.68 329.95 L228.88 329.89 L229.08 329.59 L229.27 331.04 L229.47 330.22 L229.67 330.64 L229.87 330.64 L230.07 330.13 L230.27 330.87 L230.47 330.54 L230.67 330.48 L230.87 330.93 L231.06 330.32 L231.26 330.91 L231.46 331.03 L231.66 329.52 L231.86 330.27 L232.06 330.74 L232.26 329.68 L232.46 329.80 L232.66 330.56 L232.86 330.44 L233.06 330.79 L233.25 330.42 L233.45 329.37 L233.65 330.08 L233.85 329.53 L234.05 331.05 L234.25 330.98 L234.45 330.94 L234.65 332.24 L234.85 330.99 L235.05 330.56 L235.24 331.04 L235.44 330.74 L235.64 330.18 L235.84 330.14 L236.04 329.66 L236.24 329.48 L236.44 329.98 L236.64 330.19 L236.84 330.65 L237.04 330.46 L237.23 330.25 L237.43 329.83 L237.63 329.59 L237.83 332.03 L238.03 330.50 L238.23 330.96 L238.43 330.80 L238.63 330.11 L238.83 330.62 L239.03 331.03 L239.22 330.36 L239.42 330.46 L239.62 330.15 L239.82 330.64 L240.02 330.16 L240.22 330.62 L240.42 329.85 L240.62 332.11 L240.82 329.81 L241.02 330.81 L241.21 331.10 L241.41 330.38 L241.61 330.11 L241.81 330.71 L242.01 331.27 L242.21 331.79 L242.41 330.21 L242.61 330.94 L242.81 330.95 L243.01 330.23 L243.20 331.99 L243.40 329.86 L243.60 331.07 L243.80 331.25 L244.00 330.97 L244.20 331.37 L244.40 330.28 L244.60 329.89 L244.80 330.57 L245.00 330.71 L245.19 330.07 L245.39 330.38 L245.59 329.92 L245.79 330.78 L245.99 329.96 L246.19 331.48 L246.39 331.59 L246.59 331.20 L246.79 331.45 L246.99 331.20 L247.18 330.27 L247.38 330.82 L247.58 331.57 L247.78 330.55 L247.98 331.55 L248.18 330.98 L248.38 330.66 L248.58 331.14 L248.78 331.12 L248.98 331.30 L249.17 331.85 L249.37 331.83 L249.57 329.81 L249.77 329.82 L249.97 329.73 L250.17 331.29 L250.37 331.76 L250.57 329.83 L250.77 330.24 L250.97 331.10 L251.16 331.30 L251.36 330.04 L251.56 330.31 L251.76 332.03 L251.96 331.04 L252.16 330.58 L252.36 332.03 L252.56 332.22 L252.76 331.56 L252.96 331.77 L253.15 331.76 L253.35 331.68 L253.55 329.96 L253.75 330.99 L253.95 330.90 L254.15 331.69 L254.35 330.30 L254.55 332.16 L254.75 331.12 L254.95 331.17 L255.14 330.24 L255.34 331.04 L255.54 331.15 L255.74 330.89 L255.94 330.35 L256.14 331.49 L256.34 330.28 L256.54 331.37 L256.74 330.43 L256.94 330.67 L257.13 330.90 L257.33 330.69 L257.53 331.43 L257.73 331.71 L257.93 331.61 L258.13 331.70 L258.33 330.89 L258.53 331.02 L258.73 331.59 L258.93 330.94 L259.12 331.40 L259.32 330.55 L259.52 330.64 L259.72 332.48 L259.92 331.27 L260.12 330.32 L260.32 331.10 L260.52 330.85 L260.72 331.07 L260.92 330.97 L261.11 330.22 L261.31 330.42 L261.51 331.29 L261.71 330.05 L261.91 330.08 L262.11 329.85 L262.31 330.28 L262.51 331.13 L262.71 330.28 L262.91 331.47 L263.10 331.39 L263.30 330.81 L263.50 331.80 L263.70 331.47 L263.90 330.51 L264.10 331.97 L264.30 331.23 L264.50 332.00 L264.70 331.21 L264.90 330.87 L265.09 331.55 L265.29 330.77 L265.49 330.89 L265.69 331.03 L265.89 329.49 L266.09 330.63 L266.29 330.66 L266.49 330.65 L266.69 331.81 L266.88 330.62 L267.08 331.08 L267.28 330.17 L267.48 330.75 L267.68 331.53 L267.88 329.89 L268.08 330.46 L268.28 331.33 L268.48 330.06 L268.68 330.81 L268.88 329.47 L269.07 329.67 L269.27 331.57 L269.47 330.87 L269.67 331.88 L269.87 331.11 L270.07 330.54 L270.27 330.06 L270.47 330.40 L270.67 331.42 L270.87 330.98 L271.06 329.90 L271.26 330.46 L271.46 331.66 L271.66 332.01 L271.86 330.83 L272.06 330.75 L272.26 331.58 L272.46 330.64 L272.66 331.23 L272.86 330.77 L273.05 332.30 L273.25 330.83 L273.45 331.02 L273.65 332.16 L273.85 330.29 L274.05 330.87 L274.25 331.92 L274.45 332.53 L274.65 330.42 L274.85 331.71 L275.04 330.47 L275.24 331.84 L275.44 331.14 L275.64 331.05 L275.84 331.01 L276.04 331.24 L276.24 332.53 L276.44 331.37 L276.64 331.45 L276.84 330.87 L277.03 332.07 L277.23 331.49 L277.43 331.26 L277.63 331.31 L277.83 330.12 L278.03 330.71 L278.23 331.52 L278.43 330.27 L278.63 332.68 L278.83 330.87 L279.02 330.84 L279.22 331.41 L279.42 331.30 L279.62 332.37 L279.82 331.54 L280.02 331.00 L280.22 331.38 L280.42 330.78 L280.62 332.12 L280.81 330.55 L281.01 332.26 L281.21 331.10 L281.41 332.40 L281.61 330.92 L281.81 330.15 L282.01 330.63 L282.21 331.69 L282.41 331.42 L282.61 330.36 L282.81 330.84 L283.00 332.68 L283.20 331.18 L283.40 330.41 L283.60 330.06 L283.80 331.41 L284.00 331.36 L284.20 330.67 L284.40 331.95 L284.60 332.02 L284.80 332.90 L284.99 331.93 L285.19 331.64 L285.39 330.88 L285.59 331.61 L285.79 331.53 L285.99 330.95 L286.19 330.93 L286.39 332.11 L286.59 331.39 L286.79 331.20 L286.98 330.92 L287.18 331.01 L287.38 331.66 L287.58 330.92 L287.78 330.55 L287.98 331.17 L288.18 331.71 L288.38 331.09 L288.58 331.26 L288.78 332.31 L288.97 330.95 L289.17 330.83 L289.37 332.23 L289.57 331.15 L289.77 331.55 L289.97 331.83 L290.17 331.70 L290.37 331.97 L290.57 330.31 L290.77 331.00 L290.96 331.29 L291.16 330.64 L291.36 331.38 L291.56 331.64 L291.76 332.03 L291.96 331.39 L292.16 331.70 L292.36 332.04 L292.56 331.84 L292.75 331.53 L292.95 331.16 L293.15 330.95 L293.35 332.18 L293.55 330.89 L293.75 332.44 L293.95 331.25 L294.15 331.32 L294.35 332.12 L294.55 331.91 L294.75 330.77 L294.94 331.81 L295.14 330.29 L295.34 330.96 L295.54 331.57 L295.74 330.44 L295.94 331.38 L296.14 331.52 L296.34 331.32 L296.54 332.04 L296.74 329.78 L296.93 330.29 L297.13 332.05 L297.33 331.77 L297.53 331.80 L297.73 331.23 L297.93 330.92 L298.13 332.03 L298.33 330.65 L298.53 330.41 L298.73 332.77 L298.92 332.82 L299.12 331.38 L299.32 331.88 L299.52 330.96 L299.72 331.04 L299.92 332.04 L300.12 331.96 L300.32 331.58 L300.52 331.33 L300.72 330.90 L300.91 330.88 L301.11 331.11 L301.31 331.77 L301.51 331.63 L301.71 331.83 L301.91 331.74 L302.11 331.32 L302.31 331.37 L302.51 331.78 L302.71 330.58 L302.90 332.05 L303.10 332.02 L303.30 330.07 L303.50 332.54 L303.70 330.75 L303.90 332.32 L304.10 331.26 L304.30 331.82 L304.50 331.66 L304.70 331.69 L304.89 331.84 L305.09 331.05 L305.29 331.07 L305.49 331.57 L305.69 331.28 L305.89 330.40 L306.09 331.83 L306.29 332.00 L306.49 329.69 L306.69 330.43 L306.88 330.37 L307.08 331.09 L307.28 331.71 L307.48 332.15 L307.68 331.02 L307.88 330.88 L308.08 331.69 L308.28 330.64 L308.48 331.64 L308.68 331.72 L308.87 332.04 L309.07 331.02 L309.27 330.81 L309.47 332.14 L309.67 331.39 L309.87 332.19 L310.07 331.16 L310.27 332.39 L310.47 332.13 L310.67 332.45 L310.86 331.71 L311.06 331.69 L311.26 331.46 L311.46 331.79 L311.66 331.93 L311.86 331.06 L312.06 331.69 L312.26 332.56 L312.46 330.86 L312.66 333.33 L312.85 331.01 L313.05 331.87 L313.25 332.75 L313.45 332.01 L313.65 330.94 L313.85 331.22 L314.05 332.00 L314.25 329.93 L314.45 331.45 L314.65 332.19 L314.84 332.19 L315.04 330.27 L315.24 332.12 L315.44 330.65 L315.64 332.17 L315.84 331.91 L316.04 331.18 L316.24 331.80 L316.44 332.15 L316.64 331.68 L316.83 330.99 L317.03 329.88 L317.23 331.62 L317.43 331.15 L317.63 331.06 L317.83 330.05 L318.03 331.70 L318.23 332.22 L318.43 330.99 L318.62 330.89 L318.82 234.80 L319.02 271.40 L319.22 286.36 L319.42 292.74 L319.62 298.49 L319.82 303.17 L320.02 304.11 L320.22 308.15 L320.42 309.32 L320.62 312.49 L320.81 311.60 L321.01 313.43 L321.21 314.64 L321.41 315.01 L321.61 315.53 L321.81 317.39 L322.01 316.15 L322.21 317.08 L322.41 317.15 L322.61 316.31 L322.80 318.47 L323.00 319.02 L323.20 316.65 L323.40 318.66 L323.60 317.51 L323.80 318.46 L324.00 317.02 L324.20 317.75 L324.40 317.39 L324.60 317.13 L324.79 317.95 L324.99 317.27 L325.19 316.39 L325.39 316.61 L325.59 314.82 L325.79 314.14 L325.99 314.47 L326.19 313.74 L326.39 312.96 L326.59 309.92 L326.78 308.95 L326.98 308.17 L327.18 304.57 L327.38 302.74 L327.58 298.41 L327.78 294.14 L327.98 287.04 L328.18 271.48 L328.38 235.34 L328.58 331.10 L328.77 331.93 L328.97 332.03 L329.17 330.98 L329.37 331.87 L329.57 331.80 L329.77 333.01 L329.97 331.37 L330.17 330.63 L330.37 331.90 L330.56 331.38 L330.76 331.44 L330.96 332.13 L331.16 331.30 L331.36 331.32 L331.56 331.76 L331.76 331.93 L331.96 330.44 L332.16 331.79 L332.36 331.82 L332.56 331.10 L332.75 332.49 L332.95 330.44 L333.15 332.28 L333.35 330.73 L333.55 332.59 L333.75 331.10 L333.95 331.78 L334.15 331.44 L334.35 330.36 L334.55 330.94 L334.74 331.58 L334.94 330.81 L335.14 331.27 L335.34 331.13 L335.54 330.98 L335.74 332.35 L335.94 331.24 L336.14 331.93 L336.34 330.64 L336.54 330.63 L336.73 330.84 L336.93 331.27 L337.13 331.89 L337.33 332.79 L337.53 331.71 L337.73 332.04 L337.93 331.33 L338.13 332.45 L338.33 330.38 L338.53 331.18 L338.72 330.66 L338.92 330.41 L339.12 331.86 L339.32 331.97 L339.52 330.01 L339.72 332.15 L339.92 330.95 L340.12 331.10 L340.32 331.62 L340.52 332.06 L340.71 332.91 L340.91 331.62 L341.11 331.41 L341.31 331.67 L341.51 330.78 L341.71 330.50 L341.91 331.65 L342.11 331.06 L342.31 331.19 L342.50 331.87 L342.70 331.74 L342.90 330.98 L343.10 330.90 L343.30 330.63 L343.50 331.92 L343.70 329.48 L343.90 332.93 L344.10 331.55 L344.30 331.24 L344.50 330.79 L344.69 331.84 L344.89 331.67 L345.09 330.79 L345.29 331.57 L345.49 332.49 L345.69 332.06 L345.89 331.03 L346.09 331.49 L346.29 332.41 L346.49 331.37 L346.68 330.96 L346.88 329.52 L347.08 331.36 L347.28 331.50 L347.48 330.39 L347.68 329.52 L347.88 331.06 L348.08 331.36 L348.28 331.12 L348.48 332.15 L348.67 331.63 L348.87 332.77 L349.07 331.73 L349.27 331.87 L349.47 330.75 L349.67 331.64 L349.87 331.83 L350.07 331.94 L350.27 331.58 L350.47 330.89 L350.66 331.21 L350.86 331.24 L351.06 333.03 L351.26 330.96 L351.46 332.35 L351.66 330.96 L351.86 331.57 L352.06 332.37 L352.26 331.34 L352.46 330.29 L352.65 331.02 L352.85 331.44 L353.05 331.02 L353.25 331.45 L353.45 331.06 L353.65 332.01 L353.85 332.06 L354.05 330.60 L354.25 330.18 L354.45 331.89 L354.64 330.06 L354.84 331.44 L355.04 331.59 L355.24 332.57 L355.44 331.39 L355.64 331.49 L355.84 330.69 L356.04 331.19 L356.24 331.90 L356.44 331.54 L356.63 331.61 L356.83 330.02 L357.03 331.41 L357.23 330.43 L357.43 331.20 L357.63 330.85 L357.83 331.85 L358.03 333.01 L358.23 330.79 L358.43 331.07 L358.62 331.18 L358.82 331.61 L359.02 332.42 L359.22 331.09 L359.42 331.76 L359.62 331.14 L359.82 331.46 L360.02 330.34 L360.22 330.95 L360.42 330.08 L360.61 331.23 L360.81 331.60 L361.01 329.97 L361.21 331.23 L361.41 331.93 L361.61 331.83 L361.81 331.24 L362.01 331.90 L362.21 332.75 L362.41 330.85 L362.60 332.01 L362.80 330.67 L363.00 331.50 L363.20 332.00 L363.40 332.36 L363.60 330.48 L363.80 331.95 L364.00 330.96 L364.20 330.84 L364.40 331.75 L364.59 330.40 L364.79 331.78 L364.99 330.57 L365.19 331.35 L365.39 331.49 L365.59 332.11 L365.79 331.53 L365.99 330.70 L366.19 330.83 L366.39 331.02 L366.58 331.33 L366.78 330.84 L366.98 330.77 L367.18 330.00 L367.38 332.41 L367.58 330.22 L367.78 330.71 L367.98 331.42 L368.18 330.19 L368.38 332.15 L368.57 331.99 L368.77 331.47 L368.97 331.00 L369.17 330.71 L369.37 330.63 L369.57 331.68 L369.77 331.00 L369.97 330.78 L370.17 331.49 L370.37 329.90 L370.56 330.59 L370.76 331.56 L370.96 331.53 L371.16 330.89 L371.36 330.96 L371.56 330.34 L371.76 331.19 L371.96 331.62 L372.16 329.91 L372.36 332.66 L372.55 330.86 L372.75 331.30 L372.95 331.29 L373.15 331.55 L373.35 331.45 L373.55 330.69 L373.75 331.33 L373.95 331.53 L374.15 331.84 L374.35 332.37 L374.54 330.62 L374.74 330.91 L374.94 331.61 L375.14 331.05 L375.34 330.57 L375.54 330.88 L375.74 332.04 L375.94 331.42 L376.14 330.89 L376.34 331.33 L376.53 330.68 L376.73 330.78 L376.93 330.99 L377.13 331.28 L377.33 329.80 L377.53 332.26 L377.73 329.89 L377.93 330.88 L378.13 331.39 L378.33 331.18 L378.52 330.96 L378.72 331.05 L378.92 331.60 L379.12 331.17 L379.32 332.18 L379.52 330.86 L379.72 330.95 L379.92 332.60 L380.12 331.30 L380.32 330.85 L380.51 331.50 L380.71 331.82 L380.91 330.32 L381.11 331.09 L381.31 330.40 L381.51 329.55 L381.71 330.40 L381.91 330.61 L382.11 331.23 L382.31 331.33 L382.50 330.99 L382.70 330.15 L382.90 330.65 L383.10 330.34 L383.30 332.26 L383.50 330.35 L383.70 331.80 L383.90 330.58 L384.10 331.12 L384.30 330.56 L384.49 332.55 L384.69 329.82 L384.89 331.67 L385.09 330.99 L385.29 329.68 L385.49 331.89 L385.69 331.38 L385.89 332.36 L386.09 330.58 L386.29 330.05 L386.48 330.91 L386.68 330.52 L386.88 331.37 L387.08 330.57 L387.28 330.51 L387.48 330.52 L387.68 331.39 L387.88 331.19 L388.08 330.49 L388.28 330.11 L388.47 331.32 L388.67 331.35 L388.87 330.92 L389.07 330.78 L389.27 331.65 L389.47 330.49 L389.67 330.37 L389.87 331.25 L390.07 331.21 L390.27 329.43 L390.46 331.15 L390.66 331.47 L390.86 330.55 L391.06 330.71 L391.26 330.84 L391.46 331.39 L391.66 330.81 L391.86 331.10 L392.06 330.33 L392.25 330.76 L392.45 331.07 L392.65 331.39 L392.85 331.64 L393.05 330.66 L393.25 330.15 L393.45 330.69 L393.65 330.73 L393.85 330.13 L394.05 331.45 L394.25 330.92 L394.44 330.99 L394.64 331.78 L394.84 331.22 L395.04 329.94 L395.24 330.24 L395.44 331.89 L395.64 330.69 L395.84 330.83 L396.04 330.59 L396.24 331.46 L396.43 330.81 L396.63 331.79 L396.83 330.40 L397.03 330.43 L397.23 331.62 L397.43 330.70 L397.63 329.99 L397.83 331.07 L398.03 329.69 L398.23 332.05 L398.42 330.69 L398.62 330.61 L398.82 331.56 L399.02 331.16 L399.22 330.65 L399.42 330.92 L399.62 330.01 L399.82 330.10 L400.02 331.47 L400.22 331.54 L400.41 329.83 L400.61 330.40 L400.81 331.82 L401.01 331.32 L401.21 330.54 L401.41 331.22 L401.61 330.02 L401.81 331.30 L402.01 330.14 L402.21 330.89 L402.40 331.38 L402.60 329.96 L402.80 330.77 L403.00 331.01 L403.20 331.50 L403.40 331.38 L403.60 331.87 L403.80 328.62 L404.00 330.67 L404.20 330.80 L404.39 330.92 L404.59 329.99 L404.79 331.39 L404.99 330.71 L405.19 330.50 L405.39 330.94 L405.59 331.17 L405.79 331.01 L405.99 331.57 L406.19 330.96 L406.38 330.83 L406.58 331.48 L406.78 329.01 L406.98 330.29 L407.18 330.62 L407.38 329.79 L407.58 330.70 L407.78 330.39 L407.98 330.28 L408.18 331.10 L408.37 330.45 L408.57 330.35 L408.77 331.36 L408.97 331.16 L409.17 329.55 L409.37 330.38 L409.57 331.05 L409.77 330.73 L409.97 330.00 L410.17 330.28 L410.36 330.21 L410.56 331.01 L410.76 330.13 L410.96 330.19 L411.16 330.62 L411.36 330.24 L411.56 331.99 L411.76 330.98 L411.96 329.99 L412.16 331.68 L412.35 330.69 L412.55 329.19 L412.75 331.29 L412.95 329.96 L413.15 331.04 L413.35 330.71 L413.55 330.45 L413.75 330.19 L413.95 329.44 L414.15 330.08 L414.34 330.76 L414.54 330.54 L414.74 331.16 L414.94 330.41 L415.14 330.98 L415.34 330.21 L415.54 331.71 L415.74 329.49 L415.94 331.40 L416.14 330.00 L416.33 330.75 L416.53 330.77 L416.73 330.00 L416.93 330.22 L417.13 331.32 L417.33 330.34 L417.53 330.60 L417.73 330.07 L417.93 330.60 L418.12 330.33 L418.32 330.62 L418.52 329.57 L418.72 330.23 L418.92 330.05 L419.12 330.22 L419.32 328.77 L419.52 329.81 L419.72 329.61 L419.92 329.12 L420.12 330.47 L420.31 329.05 L420.51 330.33 L420.71 329.83 L420.91 329.53 L421.11 330.63 L421.31 329.45 L421.51 330.53 L421.71 330.26 L421.91 331.04 L422.11 330.62 L422.30 330.70 L422.50 330.26 L422.70 330.91 L422.90 330.08 L423.10 330.10 L423.30 330.03 L423.50 329.06 L423.70 329.87 L423.90 330.26 L424.10 329.70 L424.29 329.77 L424.49 330.33 L424.69 330.28 L424.89 329.68 L425.09 329.56 L425.29 329.91 L425.49 330.23 L425.69 330.42 L425.89 330.66 L426.09 330.90 L426.28 330.97 L426.48 330.10 L426.68 328.89 L426.88 330.95 L427.08 331.19 L427.28 329.48 L427.48 329.90 L427.68 330.89 L427.88 329.35 L428.08 330.98 L428.27 330.21 L428.47 329.07 L428.67 329.17 L428.87 329.19 L429.07 329.96 L429.27 331.30 L429.47 330.48 L429.67 329.51 L429.87 329.39 L430.07 329.39 L430.26 330.28 L430.46 329.71 L430.66 330.77 L430.86 329.56 L431.06 329.72 L431.26 328.84 L431.46 329.61 L431.66 329.09 L431.86 329.15 L432.06 330.49 L432.25 328.85 L432.45 329.07 L432.65 329.63 L432.85 330.77 L433.05 328.83 L433.25 329.51 L433.45 329.69 L433.65 329.86 L433.85 330.76 L434.05 330.33 L434.24 329.69 L434.44 330.20 L434.64 329.80 L434.84 330.40 L435.04 330.04 L435.24 329.34 L435.44 331.08 L435.64 330.04 L435.84 329.55 L436.04 329.68 L436.23 330.36 L436.43 329.50 L436.63 329.20 L436.83 329.34 L437.03 330.00 L437.23 330.03 L437.43 329.15 L437.63 328.76 L437.83 329.32 L438.03 328.47 L438.22 328.34 L438.42 330.48 L438.62 328.66 L438.82 329.30 L439.02 329.86 L439.22 328.46 L439.42 330.52 L439.62 329.43 L439.82 329.78 L440.02 329.85 L440.21 330.37 L440.41 329.12 L440.61 329.44 L440.81 330.17 L441.01 328.93 L441.21 329.22 L441.41 328.51 L441.61 330.78 L441.81 329.63 L442.00 329.92 L442.20 329.98 L442.40 329.65 L442.60 330.35 L442.80 329.45 L443.00 329.23 L443.20 328.38 L443.40 329.54 L443.60 329.04 L443.80 328.21 L444.00 329.22 L444.19 330.41 L444.39 329.31 L444.59 328.50 L444.79 329.62 L444.99 329.73 L445.19 328.19 L445.39 328.18 L445.59 329.56 L445.79 329.21 L445.99 328.18 L446.18 328.83 L446.38 329.46 L446.58 328.49 L446.78 328.67 L446.98 329.53 L447.18 326.88 L447.38 328.85 L447.58 328.10 L447.78 328.48 L447.98 327.00 L448.17 328.27 L448.37 328.63 L448.57 328.69 L448.77 329.14 L448.97 328.59 L449.17 328.09 L449.37 328.60 L449.57 328.04 L449.77 328.58 L449.97 327.59 L450.16 329.88 L450.36 327.53 L450.56 328.18 L450.76 327.76 L450.96 329.93 L451.16 327.68 L451.36 328.72 L451.56 328.65 L451.76 328.53 L451.96 329.10 L452.15 327.94 L452.35 329.21 L452.55 329.34 L452.75 328.68 L452.95 327.97 L453.15 328.99 L453.35 328.29 L453.55 327.84 L453.75 329.27 L453.95 329.02 L454.14 326.72 L454.34 329.36 L454.54 328.25 L454.74 327.64 L454.94 327.19 L455.14 328.48 L455.34 327.30 L455.54 328.40 L455.74 328.96 L455.94 327.40 L456.13 328.16 L456.33 328.29 L456.53 328.03 L456.73 328.26 L456.93 328.26 L457.13 328.44 L457.33 327.49 L457.53 328.18 L457.73 328.94 L457.93 327.82 L458.12 327.88 L458.32 327.14 L458.52 327.74 L458.72 327.55 L458.92 326.58 L459.12 328.00 L459.32 327.15 L459.52 327.37 L459.72 327.50 L459.92 327.09 L460.11 327.22 L460.31 327.85 L460.51 327.76 L460.71 328.58 L460.91 327.16 L461.11 326.96 L461.31 328.43 L461.51 326.68 L461.71 328.04 L461.91 328.83 L462.10 327.94 L462.30 326.55 L462.50 326.19 L462.70 325.93 L462.90 326.80 L463.10 326.60 L463.30 327.69 L463.50 326.38 L463.70 326.31 L463.90 326.84 L464.09 326.62 L464.29 326.91 L464.49 326.50 L464.69 326.98 L464.89 326.84 L465.09 326.43 L465.29 326.48 L465.49 326.75 L465.69 325.45 L465.88 326.49 L466.08 327.03 L466.28 325.70 L466.48 326.50 L466.68 327.09 L466.88 325.58 L467.08 326.25 L467.28 326.30 L467.48 326.89 L467.68 326.54 L467.88 326.43 L468.07 325.22 L468.27 326.07 L468.47 325.80 L468.67 324.60 L468.87 325.74 L469.07 326.56 L469.27 324.94 L469.47 325.11 L469.67 325.51 L469.87 325.20 L470.06 325.27 L470.26 324.90 L470.46 325.14 L470.66 325.07 L470.86 324.24 L471.06 323.62 L471.26 324.61 L471.46 324.11 L471.66 324.33 L471.86 324.83 L472.05 324.84 L472.25 325.91 L472.45 324.61 L472.65 324.58 L472.85 323.82 L473.05 323.62 L473.25 323.60 L473.45 323.88 L473.65 324.13 L473.85 324.28 L474.04 323.46 L474.24 323.74 L474.44 322.73 L474.64 322.73 L474.84 323.72 L475.04 322.64 L475.24 323.21 L475.44 321.85 L475.64 321.96 L475.84 322.76 L476.03 322.58 L476.23 322.41 L476.43 321.31 L476.63 322.40 L476.83 321.87 L477.03 322.85 L477.23 321.39 L477.43 320.50 L477.63 320.51 L477.83 321.09 L478.02 320.12 L478.22 321.43 L478.42 320.27 L478.62 320.28 L478.82 320.36 L479.02 319.59 L479.22 319.23 L479.42 319.03 L479.62 319.31 L479.82 319.12 L480.01 319.26 L480.21 318.32 L480.41 318.38 L480.61 316.93 L480.81 317.31 L481.01 316.21 L481.21 316.80 L481.41 314.61 L481.61 315.26 L481.81 313.55 L482.00 314.57 L482.20 313.36 L482.40 312.90 L482.60 311.43 L482.80 310.67 L483.00 308.91 L483.20 308.19 L483.40 308.02 L483.60 305.97 L483.80 305.46 L483.99 301.94 L484.19 299.98 L484.39 296.79 L484.59 292.90 L484.79 286.96 L484.99 277.36 L485.19 260.53 L485.39 221.00 L485.59 336.00" stroke="#a11096" stroke-width="1.5" fill="none" stroke-linejoin="bevel"/>
<path d="M485.39 336.00 V220.70" stroke="#a11096" stroke-width="1.90" fill="none"/>
<path d="M200.42 336.00 L200.62 171.90 L200.82 247.13 L201.02 267.92 L201.22 278.84 L201.41 283.85 L201.61 290.30 L201.81 292.19 L202.01 296.40 L202.21 299.55 L202.41 300.00 L202.61 303.09 L202.81 304.13 L203.01 306.49 L203.21 306.67 L203.40 305.87 L203.60 308.42 L203.80 309.30 L204.00 310.11 L204.20 309.09 L204.40 311.08 L204.60 312.27 L204.80 314.06 L205.00 312.99 L205.20 313.76 L205.39 312.35 L205.59 312.71 L205.79 313.45 L205.99 314.74 L206.19 316.90 L206.39 315.01 L206.59 315.74 L206.79 316.90 L206.99 315.10 L207.19 318.43 L207.38 316.41 L207.58 314.96 L207.78 316.17 L207.98 319.48 L208.18 317.38 L208.38 318.28 L208.58 318.49 L208.78 317.03 L208.98 320.06 L209.18 318.93 L209.37 318.84 L209.57 318.96 L209.77 319.57 L209.97 320.76 L210.17 319.28 L210.37 320.66 L210.57 319.57 L210.77 321.04 L210.97 321.08 L211.17 319.33 L211.36 321.08 L211.56 320.56 L211.76 321.22 L211.96 321.00 L212.16 320.24 L212.36 320.22 L212.56 319.37 L212.76 320.07 L212.96 320.36 L213.16 321.73 L213.35 322.38 L213.55 322.98 L213.75 323.04 L213.95 322.51 L214.15 320.91 L214.35 322.05 L214.55 321.00 L214.75 322.89 L214.95 323.00 L215.15 322.70 L215.34 323.02 L215.54 321.96 L215.74 320.98 L215.94 320.85 L216.14 322.67 L216.34 324.17 L216.54 323.48 L216.74 322.26 L216.94 322.72 L217.14 325.02 L217.33 324.18 L217.53 322.95 L217.73 321.46 L217.93 324.98 L218.13 325.74 L218.33 322.03 L218.53 322.68 L218.73 323.25 L218.93 324.75 L219.12 324.39 L219.32 323.25 L219.52 322.61 L219.72 324.56 L219.92 322.97 L220.12 323.50 L220.32 324.45 L220.52 325.20 L220.72 325.60 L220.92 325.41 L221.12 324.84 L221.31 324.66 L221.51 324.73 L221.71 322.46 L221.91 324.61 L222.11 324.08 L222.31 324.25 L222.51 325.07 L222.71 325.74 L222.91 323.73 L223.11 325.54 L223.30 324.68 L223.50 324.58 L223.70 325.94 L223.90 325.85 L224.10 323.88 L224.30 324.82 L224.50 325.72 L224.70 324.31 L224.90 324.55 L225.10 325.03 L225.29 325.80 L225.49 325.85 L225.69 324.01 L225.89 324.97 L226.09 325.06 L226.29 325.32 L226.49 326.01 L226.69 324.09 L226.89 325.37 L227.09 325.93 L227.28 323.76 L227.48 324.92 L227.68 324.62 L227.88 324.61 L228.08 325.91 L228.28 326.88 L228.48 326.94 L228.68 326.23 L228.88 325.19 L229.08 326.57 L229.27 325.29 L229.47 326.80 L229.67 326.14 L229.87 326.42 L230.07 326.65 L230.27 325.17 L230.47 324.45 L230.67 325.39 L230.87 328.57 L231.06 326.67 L231.26 325.25 L231.46 325.40 L231.66 324.88 L231.86 326.35 L232.06 327.30 L232.26 329.16 L232.46 325.62 L232.66 327.05 L232.86 325.80 L233.06 326.16 L233.25 327.20 L233.45 326.33 L233.65 326.60 L233.85 325.71 L234.05 325.85 L234.25 326.26 L234.45 327.12 L234.65 326.98 L234.85 325.05 L235.05 326.82 L235.24 327.11 L235.44 325.98 L235.64 326.52 L235.84 324.18 L236.04 325.48 L236.24 326.16 L236.44 326.51 L236.64 326.74 L236.84 324.73 L237.04 327.74 L237.23 325.32 L237.43 326.88 L237.63 327.87 L237.83 325.94 L238.03 327.78 L238.23 325.76 L238.43 326.90 L238.63 325.44 L238.83 327.36 L239.03 326.18 L239.22 328.37 L239.42 327.89 L239.62 327.62 L239.82 324.63 L240.02 325.98 L240.22 326.52 L240.42 327.75 L240.62 327.64 L240.82 326.60 L241.02 325.48 L241.21 328.26 L241.41 328.02 L241.61 329.17 L241.81 325.82 L242.01 326.47 L242.21 326.60 L242.41 326.17 L242.61 325.78 L242.81 327.68 L243.01 327.45 L243.20 325.94 L243.40 328.83 L243.60 327.06 L243.80 328.49 L244.00 327.50 L244.20 326.80 L244.40 326.78 L244.60 327.41 L244.80 325.84 L245.00 326.90 L245.19 327.01 L245.39 327.57 L245.59 326.33 L245.79 327.68 L245.99 326.93 L246.19 328.07 L246.39 326.42 L246.59 327.23 L246.79 327.59 L246.99 327.67 L247.18 327.98 L247.38 327.45 L247.58 329.08 L247.78 328.51 L247.98 326.16 L248.18 327.23 L248.38 326.34 L248.58 327.40 L248.78 327.24 L248.98 327.20 L249.17 326.66 L249.37 328.98 L249.57 328.26 L249.77 328.65 L249.97 327.84 L250.17 326.97 L250.37 326.89 L250.57 329.02 L250.77 326.82 L250.97 329.21 L251.16 328.59 L251.36 328.06 L251.56 326.37 L251.76 325.78 L251.96 326.44 L252.16 327.04 L252.36 327.54 L252.56 328.00 L252.76 327.55 L252.96 329.32 L253.15 328.49 L253.35 328.16 L253.55 327.49 L253.75 325.58 L253.95 328.86 L254.15 327.46 L254.35 326.94 L254.55 328.13 L254.75 329.69 L254.95 328.03 L255.14 327.44 L255.34 327.01 L255.54 327.25 L255.74 329.08 L255.94 328.68 L256.14 328.73 L256.34 326.39 L256.54 327.51 L256.74 326.23 L256.94 329.46 L257.13 326.55 L257.33 325.87 L257.53 326.75 L257.73 328.43 L257.93 328.69 L258.13 326.86 L258.33 328.83 L258.53 327.87 L258.73 328.80 L258.93 327.19 L259.12 327.88 L259.32 328.45 L259.52 325.89 L259.72 328.64 L259.92 328.07 L260.12 327.71 L260.32 327.16 L260.52 328.31 L260.72 327.96 L260.92 326.46 L261.11 328.69 L261.31 328.93 L261.51 328.61 L261.71 327.33 L261.91 327.97 L262.11 328.00 L262.31 328.54 L262.51 327.15 L262.71 329.59 L262.91 328.54 L263.10 326.77 L263.30 328.74 L263.50 328.50 L263.70 326.64 L263.90 328.23 L264.10 329.11 L264.30 325.53 L264.50 327.20 L264.70 327.41 L264.90 328.91 L265.09 328.09 L265.29 328.88 L265.49 327.91 L265.69 328.70 L265.89 328.22 L266.09 329.63 L266.29 328.82 L266.49 328.46 L266.69 326.51 L266.88 327.72 L267.08 330.50 L267.28 328.58 L267.48 327.89 L267.68 327.90 L267.88 326.63 L268.08 328.62 L268.28 328.12 L268.48 327.37 L268.68 326.63 L268.88 328.46 L269.07 329.60 L269.27 326.95 L269.47 329.15 L269.67 328.08 L269.87 328.29 L270.07 329.32 L270.27 327.62 L270.47 327.96 L270.67 328.48 L270.87 329.40 L271.06 328.83 L271.26 329.21 L271.46 328.61 L271.66 326.48 L271.86 327.54 L272.06 329.00 L272.26 327.28 L272.46 326.06 L272.66 328.54 L272.86 328.20 L273.05 327.73 L273.25 327.55 L273.45 328.44 L273.65 329.50 L273.85 328.67 L274.05 325.83 L274.25 328.95 L274.45 327.80 L274.65 327.45 L274.85 329.95 L275.04 329.72 L275.24 327.50 L275.44 328.41 L275.64 327.54 L275.84 329.38 L276.04 328.25 L276.24 327.66 L276.44 326.59 L276.64 328.20 L276.84 330.41 L277.03 327.51 L277.23 328.36 L277.43 327.57 L277.63 327.22 L277.83 328.65 L278.03 329.21 L278.23 328.48 L278.43 328.35 L278.63 329.10 L278.83 328.09 L279.02 327.65 L279.22 327.72 L279.42 328.98 L279.62 326.73 L279.82 329.17 L280.02 329.92 L280.22 328.67 L280.42 328.35 L280.62 329.33 L280.81 327.59 L281.01 329.30 L281.21 329.85 L281.41 328.26 L281.61 329.41 L281.81 329.34 L282.01 328.91 L282.21 329.34 L282.41 329.81 L282.61 326.91 L282.81 327.67 L283.00 328.73 L283.20 329.05 L283.40 328.14 L283.60 330.02 L283.80 328.77 L284.00 328.43 L284.20 327.92 L284.40 330.66 L284.60 329.31 L284.80 327.16 L284.99 329.59 L285.19 327.99 L285.39 328.32 L285.59 328.63 L285.79 328.32 L285.99 329.97 L286.19 327.39 L286.39 328.37 L286.59 328.88 L286.79 327.71 L286.98 328.91 L287.18 328.12 L287.38 329.21 L287.58 327.37 L287.78 328.36 L287.98 330.79 L288.18 329.09 L288.38 328.80 L288.58 328.50 L288.78 328.00 L288.97 328.99 L289.17 328.20 L289.37 329.65 L289.57 329.58 L289.77 327.86 L289.97 329.44 L290.17 329.47 L290.37 329.77 L290.57 327.34 L290.77 329.97 L290.96 329.86 L291.16 328.24 L291.36 329.88 L291.56 329.78 L291.76 328.36 L291.96 329.40 L292.16 327.59 L292.36 327.47 L292.56 329.07 L292.75 327.15 L292.95 328.58 L293.15 329.33 L293.35 326.58 L293.55 326.89 L293.75 326.25 L293.95 329.46 L294.15 330.40 L294.35 328.57 L294.55 327.61 L294.75 329.37 L294.94 329.36 L295.14 327.64 L295.34 330.29 L295.54 330.41 L295.74 328.62 L295.94 328.50 L296.14 328.01 L296.34 326.97 L296.54 327.65 L296.74 328.99 L296.93 328.45 L297.13 329.17 L297.33 328.27 L297.53 327.89 L297.73 328.91 L297.93 328.48 L298.13 328.36 L298.33 328.21 L298.53 328.11 L298.73 326.48 L298.92 329.29 L299.12 327.43 L299.32 327.87 L299.52 330.50 L299.72 330.63 L299.92 329.31 L300.12 328.64 L300.32 329.41 L300.52 328.04 L300.72 329.87 L300.91 329.48 L301.11 326.83 L301.31 326.71 L301.51 328.23 L301.71 329.62 L301.91 327.60 L302.11 328.60 L302.31 327.94 L302.51 330.78 L302.71 328.79 L302.90 327.94 L303.10 328.76 L303.30 329.48 L303.50 328.97 L303.70 328.29 L303.90 327.61 L304.10 329.62 L304.30 326.55 L304.50 329.41 L304.70 329.17 L304.89 330.02 L305.09 327.75 L305.29 327.64 L305.49 331.37 L305.69 328.98 L305.89 327.09 L306.09 329.82 L306.29 328.20 L306.49 328.70 L306.69 328.20 L306.88 328.18 L307.08 329.78 L307.28 328.28 L307.48 327.03 L307.68 328.26 L307.88 328.64 L308.08 328.28 L308.28 329.91 L308.48 329.51 L308.68 329.58 L308.87 328.69 L309.07 328.99 L309.27 328.07 L309.47 329.64 L309.67 328.72 L309.87 329.52 L310.07 327.52 L310.27 327.78 L310.47 328.71 L310.67 329.57 L310.86 328.45 L311.06 328.36 L311.26 328.64 L311.46 328.88 L311.66 327.47 L311.86 327.37 L312.06 330.82 L312.26 327.71 L312.46 327.78 L312.66 327.85 L312.85 329.32 L313.05 329.97 L313.25 326.94 L313.45 326.67 L313.65 329.11 L313.85 329.08 L314.05 329.40 L314.25 328.90 L314.45 329.97 L314.65 328.96 L314.84 330.25 L315.04 329.34 L315.24 329.18 L315.44 329.22 L315.64 328.37 L315.84 328.17 L316.04 330.26 L316.24 329.11 L316.44 329.09 L316.64 329.13 L316.83 326.60 L317.03 328.29 L317.23 327.84 L317.43 327.76 L317.63 326.14 L317.83 325.73 L318.03 325.39 L318.23 326.08 L318.43 327.06 L318.62 326.64 L318.82 327.98 L319.02 326.18 L319.22 324.45 L319.42 322.87 L319.62 326.20 L319.82 324.85 L320.02 325.11 L320.22 324.85 L320.42 324.45 L320.62 324.91 L320.81 323.51 L321.01 322.74 L321.21 322.12 L321.41 322.58 L321.61 321.23 L321.81 323.04 L322.01 322.45 L322.21 321.81 L322.41 320.89 L322.61 320.36 L322.80 322.54 L323.00 321.60 L323.20 324.56 L323.40 320.37 L323.60 330.59 L323.80 321.40 L324.00 319.28 L324.20 322.37 L324.40 319.71 L324.60 322.16 L324.79 320.88 L324.99 322.91 L325.19 321.68 L325.39 321.67 L325.59 321.46 L325.79 321.92 L325.99 322.85 L326.19 323.06 L326.39 321.27 L326.59 323.70 L326.78 324.33 L326.98 325.39 L327.18 325.25 L327.38 323.90 L327.58 325.72 L327.78 324.85 L327.98 323.99 L328.18 324.73 L328.38 326.30 L328.58 324.97 L328.77 327.05 L328.97 325.39 L329.17 328.12 L329.37 325.62 L329.57 328.37 L329.77 327.79 L329.97 326.71 L330.17 328.45 L330.37 328.02 L330.56 328.47 L330.76 327.14 L330.96 329.90 L331.16 330.04 L331.36 328.73 L331.56 327.75 L331.76 327.73 L331.96 329.43 L332.16 328.97 L332.36 329.90 L332.56 326.88 L332.75 328.51 L332.95 328.25 L333.15 329.04 L333.35 330.30 L333.55 330.28 L333.75 330.43 L333.95 329.34 L334.15 328.57 L334.35 328.44 L334.55 327.96 L334.74 328.62 L334.94 330.50 L335.14 330.48 L335.34 328.78 L335.54 331.28 L335.74 328.72 L335.94 329.20 L336.14 329.03 L336.34 327.86 L336.54 329.78 L336.73 328.46 L336.93 326.45 L337.13 329.21 L337.33 327.45 L337.53 326.55 L337.73 327.47 L337.93 328.73 L338.13 329.66 L338.33 329.75 L338.53 328.73 L338.72 326.36 L338.92 328.33 L339.12 329.54 L339.32 328.75 L339.52 330.74 L339.72 327.18 L339.92 328.29 L340.12 330.05 L340.32 327.33 L340.52 329.97 L340.71 329.95 L340.91 328.25 L341.11 330.14 L341.31 328.00 L341.51 328.22 L341.71 328.71 L341.91 327.72 L342.11 329.22 L342.31 330.51 L342.50 327.29 L342.70 330.04 L342.90 326.70 L343.10 328.12 L343.30 330.17 L343.50 328.10 L343.70 327.64 L343.90 327.77 L344.10 327.59 L344.30 328.80 L344.50 328.11 L344.69 327.59 L344.89 328.09 L345.09 329.02 L345.29 329.37 L345.49 328.60 L345.69 326.76 L345.89 329.17 L346.09 327.14 L346.29 329.17 L346.49 328.81 L346.68 328.46 L346.88 328.61 L347.08 327.21 L347.28 330.75 L347.48 328.61 L347.68 328.91 L347.88 327.66 L348.08 331.05 L348.28 328.58 L348.48 329.24 L348.67 329.12 L348.87 327.34 L349.07 327.68 L349.27 328.55 L349.47 326.81 L349.67 329.69 L349.87 327.87 L350.07 327.01 L350.27 329.20 L350.47 328.09 L350.66 327.83 L350.86 329.93 L351.06 327.42 L351.26 328.70 L351.46 327.96 L351.66 328.69 L351.86 331.03 L352.06 327.69 L352.26 327.94 L352.46 327.85 L352.65 328.93 L352.85 328.86 L353.05 329.10 L353.25 329.51 L353.45 329.84 L353.65 328.39 L353.85 327.38 L354.05 327.83 L354.25 326.59 L354.45 330.67 L354.64 329.15 L354.84 328.42 L355.04 327.31 L355.24 329.76 L355.44 329.22 L355.64 328.52 L355.84 327.89 L356.04 329.40 L356.24 328.48 L356.44 330.66 L356.63 327.83 L356.83 327.01 L357.03 329.23 L357.23 328.53 L357.43 328.37 L357.63 329.43 L357.83 329.82 L358.03 329.67 L358.23 329.12 L358.43 329.50 L358.62 328.44 L358.82 327.40 L359.02 329.33 L359.22 328.77 L359.42 328.01 L359.62 326.67 L359.82 328.88 L360.02 329.47 L360.22 329.45 L360.42 327.03 L360.61 328.41 L360.81 328.16 L361.01 327.73 L361.21 327.82 L361.41 328.48 L361.61 330.31 L361.81 328.91 L362.01 326.56 L362.21 326.13 L362.41 329.56 L362.60 328.42 L362.80 328.69 L363.00 329.63 L363.20 329.70 L363.40 329.61 L363.60 327.54 L363.80 327.28 L364.00 329.12 L364.20 327.13 L364.40 329.08 L364.59 328.24 L364.79 328.81 L364.99 329.48 L365.19 328.61 L365.39 328.30 L365.59 328.90 L365.79 330.34 L365.99 328.21 L366.19 329.17 L366.39 329.79 L366.58 329.53 L366.78 328.52 L366.98 328.66 L367.18 329.54 L367.38 329.46 L367.58 329.54 L367.78 327.91 L367.98 329.74 L368.18 327.75 L368.38 328.46 L368.57 328.47 L368.77 327.48 L368.97 327.02 L369.17 329.58 L369.37 327.98 L369.57 329.13 L369.77 328.74 L369.97 328.94 L370.17 328.37 L370.37 329.36 L370.56 328.14 L370.76 330.14 L370.96 329.61 L371.16 327.83 L371.36 330.49 L371.56 329.46 L371.76 327.98 L371.96 328.99 L372.16 328.82 L372.36 328.85 L372.55 328.05 L372.75 330.03 L372.95 328.79 L373.15 326.51 L373.35 329.84 L373.55 329.37 L373.75 328.22 L373.95 328.23 L374.15 329.70 L374.35 328.16 L374.54 327.26 L374.74 329.25 L374.94 326.94 L375.14 327.28 L375.34 329.67 L375.54 328.50 L375.74 328.73 L375.94 326.91 L376.14 328.31 L376.34 329.46 L376.53 328.58 L376.73 326.78 L376.93 326.81 L377.13 328.40 L377.33 326.98 L377.53 328.25 L377.73 329.86 L377.93 328.45 L378.13 328.99 L378.33 327.86 L378.52 329.08 L378.72 329.40 L378.92 327.80 L379.12 329.43 L379.32 328.44 L379.52 326.85 L379.72 328.88 L379.92 327.96 L380.12 328.03 L380.32 329.50 L380.51 326.65 L380.71 326.45 L380.91 327.74 L381.11 327.87 L381.31 327.48 L381.51 326.99 L381.71 328.60 L381.91 326.89 L382.11 329.09 L382.31 329.02 L382.50 328.18 L382.70 328.46 L382.90 325.97 L383.10 328.88 L383.30 328.52 L383.50 328.41 L383.70 326.59 L383.90 326.54 L384.10 326.70 L384.30 328.47 L384.49 327.80 L384.69 328.59 L384.89 330.31 L385.09 326.38 L385.29 327.49 L385.49 326.73 L385.69 325.85 L385.89 328.19 L386.09 328.51 L386.29 324.50 L386.48 327.35 L386.68 328.23 L386.88 326.87 L387.08 327.94 L387.28 328.05 L387.48 327.16 L387.68 326.20 L387.88 329.09 L388.08 328.44 L388.28 327.48 L388.47 327.58 L388.67 327.44 L388.87 328.45 L389.07 326.71 L389.27 328.17 L389.47 327.89 L389.67 326.20 L389.87 330.44 L390.07 327.18 L390.27 326.95 L390.46 329.22 L390.66 327.78 L390.86 328.17 L391.06 328.92 L391.26 326.60 L391.46 328.01 L391.66 327.29 L391.86 328.38 L392.06 327.52 L392.25 328.91 L392.45 327.98 L392.65 328.21 L392.85 327.29 L393.05 328.89 L393.25 328.51 L393.45 329.63 L393.65 328.82 L393.85 326.18 L394.05 329.31 L394.25 327.38 L394.44 327.51 L394.64 327.18 L394.84 327.79 L395.04 326.41 L395.24 327.73 L395.44 329.01 L395.64 328.43 L395.84 327.93 L396.04 327.54 L396.24 327.90 L396.43 327.31 L396.63 326.75 L396.83 329.77 L397.03 327.30 L397.23 328.52 L397.43 324.67 L397.63 325.60 L397.83 328.09 L398.03 328.67 L398.23 328.57 L398.42 327.69 L398.62 325.72 L398.82 328.41 L399.02 326.54 L399.22 328.23 L399.42 328.01 L399.62 327.54 L399.82 328.54 L400.02 328.10 L400.22 326.49 L400.41 325.74 L400.61 328.07 L400.81 329.17 L401.01 326.21 L401.21 328.04 L401.41 326.72 L401.61 325.06 L401.81 325.07 L402.01 327.17 L402.21 326.30 L402.40 327.66 L402.60 326.05 L402.80 327.15 L403.00 325.67 L403.20 327.20 L403.40 325.93 L403.60 326.57 L403.80 326.36 L404.00 328.43 L404.20 329.05 L404.39 326.46 L404.59 325.60 L404.79 325.86 L404.99 327.51 L405.19 327.59 L405.39 327.08 L405.59 328.04 L405.79 326.36 L405.99 325.12 L406.19 325.14 L406.38 326.82 L406.58 324.99 L406.78 326.68 L406.98 327.94 L407.18 326.45 L407.38 326.01 L407.58 326.35 L407.78 326.67 L407.98 326.20 L408.18 327.17 L408.37 326.49 L408.57 326.89 L408.77 325.83 L408.97 327.25 L409.17 328.11 L409.37 328.36 L409.57 326.41 L409.77 326.23 L409.97 327.73 L410.17 326.95 L410.36 326.74 L410.56 326.12 L410.76 327.50 L410.96 325.99 L411.16 326.13 L411.36 326.98 L411.56 325.60 L411.76 327.85 L411.96 327.38 L412.16 323.75 L412.35 326.53 L412.55 327.96 L412.75 325.14 L412.95 326.78 L413.15 326.43 L413.35 324.34 L413.55 326.73 L413.75 326.66 L413.95 327.15 L414.15 327.15 L414.34 327.17 L414.54 326.15 L414.74 326.74 L414.94 324.89 L415.14 326.62 L415.34 327.58 L415.54 326.61 L415.74 324.98 L415.94 325.96 L416.14 324.11 L416.33 325.12 L416.53 325.37 L416.73 327.00 L416.93 324.75 L417.13 324.97 L417.33 326.52 L417.53 325.68 L417.73 327.41 L417.93 326.50 L418.12 325.00 L418.32 323.12 L418.52 327.58 L418.72 324.51 L418.92 324.17 L419.12 324.76 L419.32 326.89 L419.52 324.58 L419.72 322.62 L419.92 324.26 L420.12 325.14 L420.31 325.33 L420.51 326.11 L420.71 324.67 L420.91 325.68 L421.11 324.26 L421.31 325.42 L421.51 323.65 L421.71 324.78 L421.91 325.46 L422.11 325.42 L422.30 325.05 L422.50 326.48 L422.70 325.53 L422.90 324.49 L423.10 325.36 L423.30 326.22 L423.50 324.39 L423.70 323.27 L423.90 325.27 L424.10 323.98 L424.29 325.78 L424.49 324.60 L424.69 324.71 L424.89 324.93 L425.09 323.61 L425.29 324.46 L425.49 324.17 L425.69 323.44 L425.89 324.41 L426.09 324.46 L426.28 324.72 L426.48 325.56 L426.68 323.94 L426.88 323.95 L427.08 322.61 L427.28 323.03 L427.48 322.94 L427.68 322.48 L427.88 324.21 L428.08 322.93 L428.27 324.74 L428.47 322.94 L428.67 325.73 L428.87 323.87 L429.07 325.04 L429.27 324.05 L429.47 324.23 L429.67 324.71 L429.87 323.62 L430.07 324.04 L430.26 323.28 L430.46 322.30 L430.66 321.31 L430.86 321.18 L431.06 323.39 L431.26 325.48 L431.46 323.22 L431.66 322.92 L431.86 321.27 L432.06 320.86 L432.25 322.60 L432.45 322.33 L432.65 321.73 L432.85 322.19 L433.05 318.83 L433.25 323.28 L433.45 321.13 L433.65 320.20 L433.85 321.24 L434.05 320.95 L434.24 320.98 L434.44 322.08 L434.64 320.94 L434.84 323.02 L435.04 321.43 L435.24 320.29 L435.44 320.12 L435.64 322.11 L435.84 322.13 L436.04 319.53 L436.23 320.92 L436.43 320.40 L436.63 319.07 L436.83 321.58 L437.03 319.76 L437.23 319.20 L437.43 319.87 L437.63 318.17 L437.83 317.55 L438.03 316.61 L438.22 319.14 L438.42 320.45 L438.62 318.28 L438.82 319.23 L439.02 315.72 L439.22 318.42 L439.42 317.71 L439.62 318.40 L439.82 316.55 L440.02 316.81 L440.21 315.68 L440.41 315.98 L440.61 316.81 L440.81 316.03 L441.01 315.89 L441.21 314.11 L441.41 314.48 L441.61 312.34 L441.81 314.04 L442.00 314.00 L442.20 313.57 L442.40 312.68 L442.60 310.74 L442.80 310.85 L443.00 309.77 L443.20 308.07 L443.40 309.36 L443.60 309.47 L443.80 307.97 L444.00 306.29 L444.19 305.08 L444.39 305.70 L444.59 301.95 L444.79 302.56 L444.99 298.03 L445.19 295.47 L445.39 293.57 L445.59 288.30 L445.79 284.50 L445.99 277.99 L446.18 265.18 L446.38 246.48 L446.58 171.90 L446.78 336.00" stroke="#c63700" stroke-width="1.5" fill="none" stroke-linejoin="bevel"/>
<path d="M244.00 336.00 L244.20 52.90 L244.40 192.22 L244.60 224.24 L244.80 241.47 L245.00 254.70 L245.19 260.72 L245.39 267.66 L245.59 271.50 L245.79 276.33 L245.99 278.47 L246.19 283.91 L246.39 284.31 L246.59 286.16 L246.79 290.21 L246.99 288.60 L247.18 291.38 L247.38 292.02 L247.58 294.70 L247.78 296.27 L247.98 294.53 L248.18 297.66 L248.38 299.38 L248.58 299.28 L248.78 300.50 L248.98 302.47 L249.17 300.50 L249.37 303.78 L249.57 303.21 L249.77 304.03 L249.97 302.53 L250.17 302.38 L250.37 304.26 L250.57 306.51 L250.77 305.37 L250.97 307.22 L251.16 307.03 L251.36 305.40 L251.56 310.35 L251.76 308.42 L251.96 308.81 L252.16 310.00 L252.36 309.86 L252.56 309.11 L252.76 309.94 L252.96 310.03 L253.15 311.32 L253.35 311.75 L253.55 309.56 L253.75 312.49 L253.95 310.95 L254.15 311.01 L254.35 312.78 L254.55 313.52 L254.75 313.77 L254.95 310.75 L255.14 311.88 L255.34 312.05 L255.54 315.57 L255.74 314.49 L255.94 314.53 L256.14 315.05 L256.34 314.39 L256.54 314.48 L256.74 313.50 L256.94 315.08 L257.13 313.46 L257.33 314.39 L257.53 316.03 L257.73 314.41 L257.93 314.94 L258.13 315.45 L258.33 314.75 L258.53 316.91 L258.73 314.30 L258.93 314.59 L259.12 317.05 L259.32 317.10 L259.52 316.92 L259.72 317.57 L259.92 316.95 L260.12 317.02 L260.32 317.10 L260.52 317.02 L260.72 315.11 L260.92 316.50 L261.11 317.80 L261.31 316.10 L261.51 316.64 L261.71 318.51 L261.91 317.39 L262.11 319.06 L262.31 319.61 L262.51 319.39 L262.71 319.74 L262.91 317.75 L263.10 318.38 L263.30 318.58 L263.50 318.07 L263.70 320.08 L263.90 320.75 L264.10 318.38 L264.30 319.50 L264.50 319.67 L264.70 319.62 L264.90 318.90 L265.09 318.87 L265.29 319.50 L265.49 320.51 L265.69 319.69 L265.89 318.94 L266.09 319.45 L266.29 320.85 L266.49 320.21 L266.69 321.72 L266.88 321.16 L267.08 319.04 L267.28 319.07 L267.48 319.50 L267.68 320.96 L267.88 319.21 L268.08 322.62 L268.28 322.11 L268.48 320.79 L268.68 319.74 L268.88 320.00 L269.07 320.48 L269.27 320.96 L269.47 321.90 L269.67 321.47 L269.87 321.81 L270.07 320.94 L270.27 322.45 L270.47 322.21 L270.67 323.51 L270.87 321.05 L271.06 321.69 L271.26 320.42 L271.46 322.99 L271.66 322.21 L271.86 319.91 L272.06 320.91 L272.26 321.88 L272.46 323.24 L272.66 322.20 L272.86 321.64 L273.05 321.53 L273.25 322.39 L273.45 322.92 L273.65 321.55 L273.85 321.52 L274.05 323.22 L274.25 323.09 L274.45 321.28 L274.65 323.11 L274.85 322.35 L275.04 323.16 L275.24 320.37 L275.44 322.85 L275.64 322.33 L275.84 322.80 L276.04 322.03 L276.24 322.40 L276.44 323.03 L276.64 322.23 L276.84 322.18 L277.03 323.11 L277.23 321.20 L277.43 323.51 L277.63 323.51 L277.83 322.90 L278.03 322.31 L278.23 322.38 L278.43 324.03 L278.63 322.96 L278.83 324.93 L279.02 322.92 L279.22 323.28 L279.42 321.74 L279.62 323.08 L279.82 324.49 L280.02 323.90 L280.22 323.57 L280.42 323.70 L280.62 323.35 L280.81 323.27 L281.01 321.96 L281.21 321.92 L281.41 322.86 L281.61 322.42 L281.81 322.98 L282.01 322.51 L282.21 323.19 L282.41 324.96 L282.61 324.00 L282.81 324.43 L283.00 322.62 L283.20 323.50 L283.40 325.54 L283.60 323.22 L283.80 324.63 L284.00 323.08 L284.20 325.05 L284.40 323.28 L284.60 325.04 L284.80 322.65 L284.99 322.71 L285.19 324.06 L285.39 326.73 L285.59 323.80 L285.79 323.41 L285.99 325.90 L286.19 325.53 L286.39 323.38 L286.59 325.24 L286.79 324.33 L286.98 323.07 L287.18 325.69 L287.38 325.19 L287.58 325.17 L287.78 325.67 L287.98 324.02 L288.18 324.04 L288.38 325.73 L288.58 324.30 L288.78 323.83 L288.97 326.06 L289.17 325.53 L289.37 324.88 L289.57 323.26 L289.77 326.43 L289.97 326.00 L290.17 324.84 L290.37 324.17 L290.57 323.30 L290.77 325.52 L290.96 325.55 L291.16 324.06 L291.36 324.58 L291.56 325.42 L291.76 326.77 L291.96 325.06 L292.16 323.64 L292.36 324.33 L292.56 326.70 L292.75 326.58 L292.95 325.08 L293.15 324.68 L293.35 324.18 L293.55 322.93 L293.75 325.66 L293.95 325.48 L294.15 325.14 L294.35 323.56 L294.55 324.80 L294.75 325.97 L294.94 324.30 L295.14 324.65 L295.34 324.63 L295.54 326.23 L295.74 324.98 L295.94 326.82 L296.14 325.21 L296.34 324.32 L296.54 325.51 L296.74 324.68 L296.93 325.35 L297.13 323.33 L297.33 324.31 L297.53 326.22 L297.73 326.86 L297.93 325.14 L298.13 326.94 L298.33 327.32 L298.53 325.21 L298.73 324.99 L298.92 326.00 L299.12 327.33 L299.32 325.23 L299.52 323.96 L299.72 325.97 L299.92 325.38 L300.12 324.68 L300.32 326.19 L300.52 325.14 L300.72 325.01 L300.91 324.72 L301.11 324.77 L301.31 326.68 L301.51 326.29 L301.71 325.22 L301.91 327.16 L302.11 326.45 L302.31 324.80 L302.51 325.71 L302.71 324.13 L302.90 324.33 L303.10 325.91 L303.30 324.58 L303.50 327.04 L303.70 327.46 L303.90 325.07 L304.10 325.77 L304.30 326.61 L304.50 325.22 L304.70 324.82 L304.89 325.27 L305.09 325.25 L305.29 327.23 L305.49 323.89 L305.69 325.25 L305.89 325.20 L306.09 325.17 L306.29 326.02 L306.49 325.13 L306.69 326.08 L306.88 325.44 L307.08 327.12 L307.28 326.90 L307.48 327.20 L307.68 324.65 L307.88 326.23 L308.08 326.90 L308.28 325.81 L308.48 327.33 L308.68 326.11 L308.87 326.06 L309.07 327.03 L309.27 325.89 L309.47 325.56 L309.67 326.19 L309.87 325.54 L310.07 324.90 L310.27 328.26 L310.47 327.25 L310.67 326.17 L310.86 326.39 L311.06 325.22 L311.26 326.24 L311.46 327.87 L311.66 327.55 L311.86 327.12 L312.06 326.38 L312.26 326.50 L312.46 325.19 L312.66 327.60 L312.85 324.67 L313.05 326.64 L313.25 325.75 L313.45 325.16 L313.65 325.79 L313.85 324.46 L314.05 325.25 L314.25 328.06 L314.45 327.50 L314.65 326.08 L314.84 326.47 L315.04 328.05 L315.24 326.86 L315.44 327.64 L315.64 327.80 L315.84 329.57 L316.04 327.51 L316.24 327.51 L316.44 330.16 L316.64 328.14 L316.83 327.76 L317.03 329.80 L317.23 328.13 L317.43 331.13 L317.63 328.68 L317.83 330.06 L318.03 330.66 L318.23 331.01 L318.43 329.95 L318.62 329.36 L318.82 331.88 L319.02 330.16 L319.22 331.20 L319.42 333.41 L319.62 330.94 L319.82 333.44 L320.02 331.77 L320.22 333.46 L320.42 333.51 L320.62 334.22 L320.81 333.32 L321.01 333.45 L321.21 334.97 L321.41 332.60 L321.61 334.04 L321.81 334.74 L322.01 334.88 L322.21 334.01 L322.41 333.41 L322.61 335.44 L322.80 335.70 L323.00 335.96 L323.20 335.41 L323.40 336.00 L323.60 336.00 L323.80 335.45 L324.00 334.37 L324.20 335.52 L324.40 335.80 L324.60 335.74 L324.79 333.34 L324.99 334.96 L325.19 333.66 L325.39 333.36 L325.59 332.58 L325.79 333.82 L325.99 333.77 L326.19 334.05 L326.39 330.08 L326.59 334.30 L326.78 332.25 L326.98 333.33 L327.18 333.25 L327.38 333.99 L327.58 331.11 L327.78 330.71 L327.98 332.84 L328.18 330.09 L328.38 329.45 L328.58 331.53 L328.77 332.40 L328.97 328.52 L329.17 329.61 L329.37 330.70 L329.57 329.24 L329.77 328.52 L329.97 330.70 L330.17 328.09 L330.37 328.12 L330.56 329.00 L330.76 329.16 L330.96 327.64 L331.16 326.62 L331.36 329.02 L331.56 326.45 L331.76 326.61 L331.96 328.37 L332.16 327.49 L332.36 326.47 L332.56 326.14 L332.75 327.98 L332.95 324.79 L333.15 326.16 L333.35 325.41 L333.55 326.81 L333.75 325.75 L333.95 326.62 L334.15 325.14 L334.35 325.66 L334.55 325.45 L334.74 326.78 L334.94 327.32 L335.14 327.01 L335.34 326.87 L335.54 326.15 L335.74 326.11 L335.94 326.52 L336.14 327.06 L336.34 325.79 L336.54 325.77 L336.73 327.14 L336.93 326.93 L337.13 326.00 L337.33 325.46 L337.53 326.90 L337.73 324.72 L337.93 326.47 L338.13 325.30 L338.33 325.92 L338.53 325.82 L338.72 326.37 L338.92 325.68 L339.12 328.94 L339.32 325.50 L339.52 328.20 L339.72 326.30 L339.92 325.98 L340.12 326.32 L340.32 324.96 L340.52 324.68 L340.71 325.12 L340.91 326.27 L341.11 326.01 L341.31 327.52 L341.51 328.68 L341.71 325.92 L341.91 324.39 L342.11 325.77 L342.31 325.95 L342.50 323.76 L342.70 325.96 L342.90 325.86 L343.10 324.52 L343.30 325.85 L343.50 325.99 L343.70 325.74 L343.90 325.10 L344.10 324.99 L344.30 324.61 L344.50 326.60 L344.69 326.46 L344.89 324.19 L345.09 326.47 L345.29 327.94 L345.49 325.55 L345.69 326.92 L345.89 324.70 L346.09 325.68 L346.29 325.56 L346.49 325.12 L346.68 326.02 L346.88 327.43 L347.08 324.87 L347.28 326.10 L347.48 325.36 L347.68 323.53 L347.88 324.78 L348.08 325.69 L348.28 325.36 L348.48 327.01 L348.67 325.40 L348.87 325.63 L349.07 323.09 L349.27 324.84 L349.47 325.66 L349.67 325.83 L349.87 326.37 L350.07 325.56 L350.27 325.53 L350.47 324.54 L350.66 324.45 L350.86 324.35 L351.06 324.28 L351.26 325.61 L351.46 324.26 L351.66 326.41 L351.86 325.94 L352.06 325.50 L352.26 324.06 L352.46 323.08 L352.65 325.03 L352.85 325.38 L353.05 323.38 L353.25 324.25 L353.45 326.24 L353.65 324.88 L353.85 323.08 L354.05 325.65 L354.25 323.51 L354.45 324.86 L354.64 325.12 L354.84 324.31 L355.04 324.00 L355.24 325.73 L355.44 325.90 L355.64 325.57 L355.84 324.82 L356.04 325.54 L356.24 325.95 L356.44 324.06 L356.63 324.74 L356.83 326.02 L357.03 324.56 L357.23 325.73 L357.43 324.47 L357.63 326.08 L357.83 324.58 L358.03 325.16 L358.23 325.41 L358.43 324.70 L358.62 324.11 L358.82 325.92 L359.02 323.29 L359.22 324.40 L359.42 323.92 L359.62 325.41 L359.82 324.68 L360.02 322.87 L360.22 324.79 L360.42 322.68 L360.61 324.73 L360.81 324.59 L361.01 324.37 L361.21 324.83 L361.41 324.14 L361.61 325.06 L361.81 324.44 L362.01 325.16 L362.21 325.76 L362.41 323.86 L362.60 323.14 L362.80 323.17 L363.00 322.10 L363.20 324.52 L363.40 322.97 L363.60 323.29 L363.80 325.84 L364.00 324.45 L364.20 324.30 L364.40 323.33 L364.59 324.21 L364.79 323.92 L364.99 323.73 L365.19 323.23 L365.39 323.44 L365.59 323.48 L365.79 324.50 L365.99 325.37 L366.19 323.94 L366.39 324.74 L366.58 325.09 L366.78 321.65 L366.98 324.02 L367.18 322.56 L367.38 324.24 L367.58 322.89 L367.78 323.27 L367.98 322.69 L368.18 324.31 L368.38 323.23 L368.57 324.58 L368.77 324.09 L368.97 323.41 L369.17 324.63 L369.37 323.45 L369.57 321.72 L369.77 321.22 L369.97 322.06 L370.17 323.05 L370.37 320.65 L370.56 322.61 L370.76 323.38 L370.96 322.44 L371.16 324.02 L371.36 321.36 L371.56 322.71 L371.76 320.88 L371.96 323.59 L372.16 322.65 L372.36 322.17 L372.55 322.33 L372.75 321.82 L372.95 321.77 L373.15 322.91 L373.35 322.10 L373.55 323.36 L373.75 323.05 L373.95 323.17 L374.15 321.64 L374.35 322.16 L374.54 321.52 L374.74 324.60 L374.94 321.57 L375.14 321.10 L375.34 322.91 L375.54 321.38 L375.74 321.74 L375.94 321.43 L376.14 319.63 L376.34 322.16 L376.53 320.39 L376.73 321.95 L376.93 322.65 L377.13 320.15 L377.33 320.97 L377.53 322.15 L377.73 320.13 L377.93 321.38 L378.13 320.39 L378.33 322.41 L378.52 319.52 L378.72 320.92 L378.92 319.74 L379.12 320.32 L379.32 318.39 L379.52 321.83 L379.72 321.16 L379.92 320.72 L380.12 319.10 L380.32 319.74 L380.51 320.23 L380.71 318.92 L380.91 318.83 L381.11 319.96 L381.31 321.18 L381.51 319.93 L381.71 318.68 L381.91 320.98 L382.11 318.50 L382.31 318.80 L382.50 319.57 L382.70 319.17 L382.90 319.13 L383.10 319.31 L383.30 319.29 L383.50 316.78 L383.70 318.60 L383.90 317.51 L384.10 317.91 L384.30 318.63 L384.49 319.10 L384.69 317.86 L384.89 317.54 L385.09 317.74 L385.29 318.07 L385.49 317.06 L385.69 317.76 L385.89 317.33 L386.09 317.49 L386.29 318.82 L386.48 317.92 L386.68 315.47 L386.88 316.44 L387.08 315.24 L387.28 317.69 L387.48 316.49 L387.68 316.36 L387.88 314.65 L388.08 316.89 L388.28 315.70 L388.47 314.62 L388.67 315.34 L388.87 315.41 L389.07 315.00 L389.27 315.51 L389.47 315.19 L389.67 313.74 L389.87 314.76 L390.07 316.24 L390.27 314.67 L390.46 314.31 L390.66 314.08 L390.86 314.81 L391.06 312.49 L391.26 314.25 L391.46 312.88 L391.66 313.72 L391.86 311.92 L392.06 313.50 L392.25 312.05 L392.45 311.90 L392.65 312.82 L392.85 312.71 L393.05 312.63 L393.25 312.20 L393.45 310.51 L393.65 312.48 L393.85 310.69 L394.05 311.09 L394.25 309.23 L394.44 310.40 L394.64 310.83 L394.84 309.47 L395.04 309.11 L395.24 308.39 L395.44 309.26 L395.64 309.37 L395.84 307.75 L396.04 308.45 L396.24 308.02 L396.43 306.94 L396.63 305.83 L396.83 305.87 L397.03 303.37 L397.23 304.72 L397.43 304.16 L397.63 301.71 L397.83 302.94 L398.03 302.61 L398.23 300.06 L398.42 300.51 L398.62 298.59 L398.82 297.62 L399.02 297.20 L399.22 295.65 L399.42 295.54 L399.62 294.50 L399.82 294.34 L400.02 291.50 L400.22 289.57 L400.41 288.61 L400.61 284.10 L400.81 284.02 L401.01 281.38 L401.21 278.77 L401.41 276.08 L401.61 273.37 L401.81 267.12 L402.01 260.72 L402.21 253.70 L402.40 241.05 L402.60 225.43 L402.80 192.38 L403.00 52.90 L403.20 336.00" stroke="#e48300" stroke-width="1.5" fill="none" stroke-linejoin="bevel"/>
<path d="M508.3 34.90 H554" stroke="#7202f3" stroke-width="1.5" fill="none"/>
<path d="M508.3 50.17 H554" stroke="#a11096" stroke-width="1.5" fill="none"/>
<path d="M508.3 65.44 H554" stroke="#c63700" stroke-width="1.5" fill="none"/>
<path d="M508.3 80.71 H554" stroke="#e48300" stroke-width="1.5" fill="none"/>
<rect x="75.00" y="18.40" width="497.20" height="317.60" fill="none" stroke="#000" stroke-width="1.9"/>
<g opacity="0.999">
<text x="75.00" y="355.5" text-anchor="middle" font-family="Liberation Sans, sans-serif" font-size="15.4" fill="#000" text-rendering="geometricPrecision">-40</text>
<text x="137.15" y="355.5" text-anchor="middle" font-family="Liberation Sans, sans-serif" font-size="15.4" fill="#000" text-rendering="geometricPrecision">-30</text>
<text x="199.30" y="355.5" text-anchor="middle" font-family="Liberation Sans, sans-serif" font-size="15.4" fill="#000" text-rendering="geometricPrecision">-20</text>
<text x="261.45" y="355.5" text-anchor="middle" font-family="Liberation Sans, sans-serif" font-size="15.4" fill="#000" text-rendering="geometricPrecision">-10</text>
<text x="325.70" y="355.5" text-anchor="middle" font-family="Liberation Sans, sans-serif" font-size="15.4" fill="#000" text-rendering="geometricPrecision">0</text>
<text x="387.85" y="355.5" text-anchor="middle" font-family="Liberation Sans, sans-serif" font-size="15.4" fill="#000" text-rendering="geometricPrecision">10</text>
<text x="450.00" y="355.5" text-anchor="middle" font-family="Liberation Sans, sans-serif" font-size="15.4" fill="#000" text-rendering="geometricPrecision">20</text>
<text x="512.15" y="355.5" text-anchor="middle" font-family="Liberation Sans, sans-serif" font-size="15.4" fill="#000" text-rendering="geometricPrecision">30</text>
<text x="574.30" y="355.5" text-anchor="middle" font-family="Liberation Sans, sans-serif" font-size="15.4" fill="#000" text-rendering="geometricPrecision">40</text>
<text x="65.4" y="340.90" text-anchor="end" letter-spacing="-0.2" font-family="Liberation Sans, sans-serif" font-size="15.4" fill="#000" text-rendering="geometricPrecision">0</text>
<text x="65.4" y="261.50" text-anchor="end" letter-spacing="-0.2" font-family="Liberation Sans, sans-serif" font-size="15.4" fill="#000" text-rendering="geometricPrecision">0.2</text>
<text x="65.4" y="182.10" text-anchor="end" letter-spacing="-0.2" font-family="Liberation Sans, sans-serif" font-size="15.4" fill="#000" text-rendering="geometricPrecision">0.4</text>
<text x="65.4" y="102.70" text-anchor="end" letter-spacing="-0.2" font-family="Liberation Sans, sans-serif" font-size="15.4" fill="#000" text-rendering="geometricPrecision">0.6</text>
<text x="65.4" y="23.30" text-anchor="end" letter-spacing="-0.2" font-family="Liberation Sans, sans-serif" font-size="15.4" fill="#000" text-rendering="geometricPrecision">0.8</text>
<text x="499.2" y="40.10" text-anchor="end" font-family="Liberation Sans, sans-serif" font-size="15.4" fill="#000" text-rendering="geometricPrecision">R = 116 kpc</text>
<text x="499.2" y="55.37" text-anchor="end" font-family="Liberation Sans, sans-serif" font-size="15.4" fill="#000" text-rendering="geometricPrecision">R = 117 kpc</text>
<text x="499.2" y="70.64" text-anchor="end" font-family="Liberation Sans, sans-serif" font-size="15.4" fill="#000" text-rendering="geometricPrecision">R = 118 kpc</text>
<text x="499.2" y="85.91" text-anchor="end" font-family="Liberation Sans, sans-serif" font-size="15.4" fill="#000" text-rendering="geometricPrecision">R = 119 kpc</text>
<text x="290.2" y="377.3" font-family="Liberation Sans, sans-serif" font-size="15.05" fill="#000" text-rendering="geometricPrecision">v<tspan font-size="12" dy="4.2">los</tspan><tspan dy="-4.2"> [km/s]</tspan></text>
<text transform="translate(17 177.2) rotate(-90)" text-anchor="middle" font-family="Liberation Sans, sans-serif" font-size="14.7" fill="#000" text-rendering="geometricPrecision">intensity</text>
</g>
</svg>
</body></html>
